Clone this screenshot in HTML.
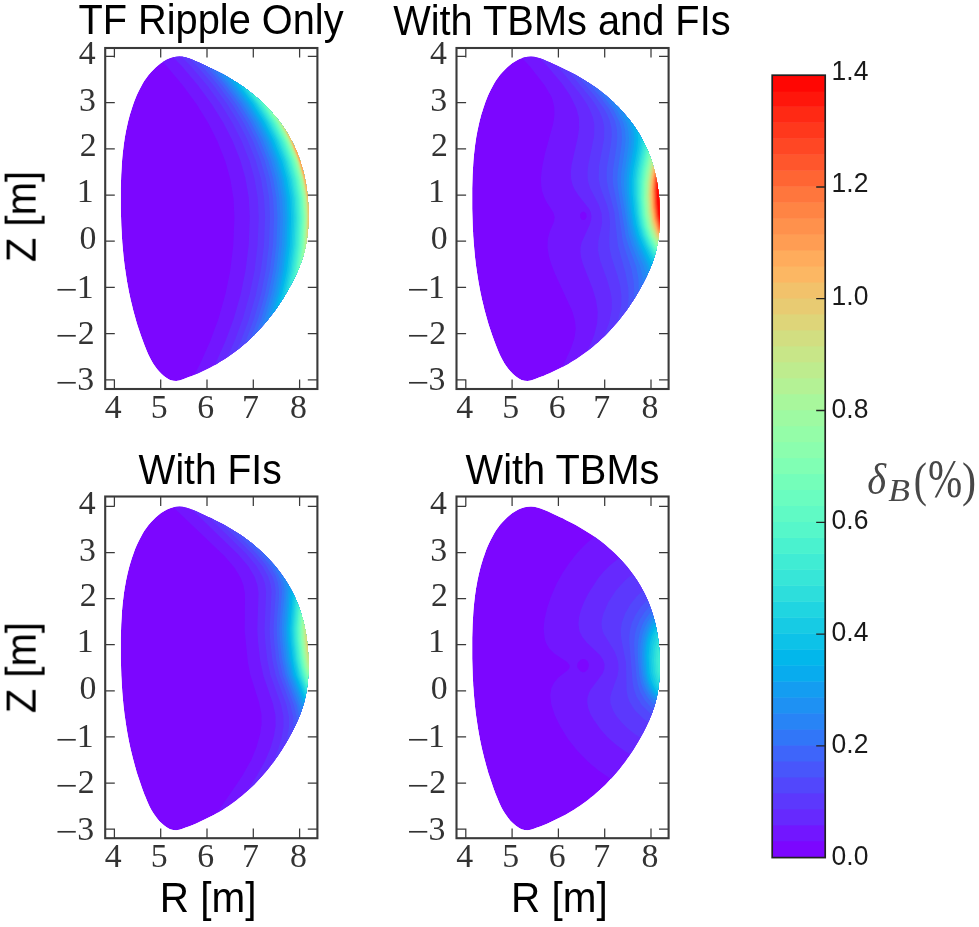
<!DOCTYPE html>
<html lang="en"><head><meta charset="utf-8"><title>Ripple maps</title>
<style>html,body{margin:0;padding:0;background:#fff}svg{display:block}</style></head>
<body>
<svg width="979" height="927" viewBox="0 0 979 927">
<rect width="979" height="927" fill="#fff"/>
<filter id="soft" x="0" y="0" width="100%" height="100%" filterUnits="userSpaceOnUse" color-interpolation-filters="sRGB"><feGaussianBlur stdDeviation="0.55"/></filter>
<g filter="url(#soft)">
<rect width="979" height="927" fill="#fff"/>
<clipPath id="c0"><path d="M308.5,218.2 L308.5,214.9 L308.4,211.5 L308.3,208.1 L308.2,204.6 L308,201.2 L307.7,197.8 L307.4,194.4 L307,191 L306.5,187.7 L306,184.3 L305.4,180.9 L304.7,177.6 L304,174.2 L303.2,170.9 L302.3,167.7 L301.3,164.4 L300.3,161.1 L299.2,157.9 L298,154.8 L296.8,151.6 L295.4,148.5 L294,145.4 L292.5,142.4 L290.9,139.4 L289.3,136.5 L287.6,133.5 L285.8,130.7 L283.9,127.8 L282,125.1 L280,122.3 L277.9,119.6 L275.8,117 L273.6,114.4 L271.4,111.8 L269.1,109.3 L266.7,106.8 L264.3,104.4 L261.9,102.1 L259.4,99.8 L256.8,97.5 L254.3,95.3 L251.6,93.2 L249,91.1 L246.3,89.1 L243.6,87.1 L240.8,85.2 L238,83.3 L235.1,81.5 L232.3,79.7 L229.4,78 L226.5,76.3 L223.5,74.6 L220.5,73 L217.5,71.4 L214.4,69.9 L211.4,68.4 L208.3,66.9 L205.2,65.4 L202,64 L198.9,62.6 L195.7,61.2 L192.5,59.8 L189.3,58.6 L186,57.5 L182.8,56.8 L179.6,56.5 L176.3,56.7 L173.1,57.2 L170,58.2 L166.9,59.6 L163.9,61.2 L161,63.1 L158.2,65.3 L155.6,67.6 L153.1,70 L150.7,72.5 L148.5,75.1 L146.5,77.8 L144.5,80.6 L142.7,83.5 L141.1,86.4 L139.5,89.4 L138,92.5 L136.6,95.6 L135.3,98.7 L134.1,101.8 L133,105 L131.9,108.2 L130.9,111.4 L129.9,114.6 L129,117.9 L128.2,121.1 L127.4,124.4 L126.7,127.7 L126,131 L125.4,134.3 L124.8,137.6 L124.3,141 L123.8,144.3 L123.4,147.7 L123,151 L122.6,154.4 L122.3,157.8 L122,161.2 L121.8,164.6 L121.6,168 L121.4,171.4 L121.2,174.8 L121.1,178.2 L121,181.6 L120.9,185 L120.8,188.4 L120.8,191.8 L120.8,195.2 L120.8,198.6 L120.8,202 L120.8,205.4 L120.8,208.8 L120.9,212.2 L121,215.6 L121.1,219 L121.2,222.4 L121.3,225.8 L121.5,229.2 L121.7,232.6 L121.8,236 L122.1,239.4 L122.3,242.7 L122.6,246.1 L122.9,249.5 L123.2,252.8 L123.5,256.2 L123.9,259.6 L124.3,262.9 L124.7,266.3 L125.2,269.6 L125.7,272.9 L126.2,276.3 L126.7,279.6 L127.3,282.9 L127.9,286.3 L128.5,289.6 L129.2,292.9 L129.9,296.2 L130.6,299.5 L131.4,302.8 L132.2,306.1 L133,309.4 L133.9,312.7 L134.8,315.9 L135.7,319.2 L136.6,322.4 L137.6,325.7 L138.7,328.9 L139.8,332.2 L140.9,335.4 L142,338.6 L143.2,341.8 L144.4,345 L145.7,348.2 L147,351.4 L148.3,354.5 L149.8,357.6 L151.4,360.5 L153.1,363.5 L155,366.3 L157,369 L159.2,371.5 L161.6,374 L164.2,376.2 L167,378.3 L170,379.9 L173.1,380.8 L176.2,381 L179.4,380.4 L182.5,379.4 L185.7,378.3 L188.8,377.1 L192,375.9 L195.1,374.6 L198.3,373.2 L201.4,371.8 L204.5,370.3 L207.6,368.8 L210.6,367.2 L213.7,365.6 L216.7,363.9 L219.6,362.1 L222.6,360.3 L225.5,358.5 L228.3,356.6 L231.1,354.6 L233.9,352.6 L236.6,350.6 L239.2,348.5 L241.9,346.3 L244.4,344.1 L247,341.9 L249.4,339.6 L251.9,337.3 L254.3,335 L256.6,332.6 L258.9,330.1 L261.2,327.6 L263.4,325.1 L265.6,322.5 L267.7,319.9 L269.8,317.3 L271.9,314.6 L273.9,311.9 L275.9,309.2 L277.8,306.4 L279.7,303.6 L281.6,300.7 L283.4,297.9 L285.1,295 L286.9,292 L288.6,289.1 L290.2,286.1 L291.9,283 L293.4,280 L294.9,276.9 L296.4,273.8 L297.8,270.7 L299.1,267.5 L300.4,264.4 L301.5,261.2 L302.6,258 L303.6,254.7 L304.5,251.5 L305.2,248.2 L305.9,245 L306.5,241.7 L307,238.4 L307.4,235 L307.8,231.7 L308.1,228.4 L308.3,225 L308.4,221.6Z"/></clipPath>
<g clip-path="url(#c0)">
<path d="M308.5,218.2 L308.5,214.9 L308.4,211.5 L308.3,208.1 L308.2,204.6 L308,201.2 L307.7,197.8 L307.4,194.4 L307,191 L306.5,187.7 L306,184.3 L305.4,180.9 L304.7,177.6 L304,174.2 L303.2,170.9 L302.3,167.7 L301.3,164.4 L300.3,161.1 L299.2,157.9 L298,154.8 L296.8,151.6 L295.4,148.5 L294,145.4 L292.5,142.4 L290.9,139.4 L289.3,136.5 L287.6,133.5 L285.8,130.7 L283.9,127.8 L282,125.1 L280,122.3 L277.9,119.6 L275.8,117 L273.6,114.4 L271.4,111.8 L269.1,109.3 L266.7,106.8 L264.3,104.4 L261.9,102.1 L259.4,99.8 L256.8,97.5 L254.3,95.3 L251.6,93.2 L249,91.1 L246.3,89.1 L243.6,87.1 L240.8,85.2 L238,83.3 L235.1,81.5 L232.3,79.7 L229.4,78 L226.5,76.3 L223.5,74.6 L220.5,73 L217.5,71.4 L214.4,69.9 L211.4,68.4 L208.3,66.9 L205.2,65.4 L202,64 L198.9,62.6 L195.7,61.2 L192.5,59.8 L189.3,58.6 L186,57.5 L182.8,56.8 L179.6,56.5 L176.3,56.7 L173.1,57.2 L170,58.2 L166.9,59.6 L163.9,61.2 L161,63.1 L158.2,65.3 L155.6,67.6 L153.1,70 L150.7,72.5 L148.5,75.1 L146.5,77.8 L144.5,80.6 L142.7,83.5 L141.1,86.4 L139.5,89.4 L138,92.5 L136.6,95.6 L135.3,98.7 L134.1,101.8 L133,105 L131.9,108.2 L130.9,111.4 L129.9,114.6 L129,117.9 L128.2,121.1 L127.4,124.4 L126.7,127.7 L126,131 L125.4,134.3 L124.8,137.6 L124.3,141 L123.8,144.3 L123.4,147.7 L123,151 L122.6,154.4 L122.3,157.8 L122,161.2 L121.8,164.6 L121.6,168 L121.4,171.4 L121.2,174.8 L121.1,178.2 L121,181.6 L120.9,185 L120.8,188.4 L120.8,191.8 L120.8,195.2 L120.8,198.6 L120.8,202 L120.8,205.4 L120.8,208.8 L120.9,212.2 L121,215.6 L121.1,219 L121.2,222.4 L121.3,225.8 L121.5,229.2 L121.7,232.6 L121.8,236 L122.1,239.4 L122.3,242.7 L122.6,246.1 L122.9,249.5 L123.2,252.8 L123.5,256.2 L123.9,259.6 L124.3,262.9 L124.7,266.3 L125.2,269.6 L125.7,272.9 L126.2,276.3 L126.7,279.6 L127.3,282.9 L127.9,286.3 L128.5,289.6 L129.2,292.9 L129.9,296.2 L130.6,299.5 L131.4,302.8 L132.2,306.1 L133,309.4 L133.9,312.7 L134.8,315.9 L135.7,319.2 L136.6,322.4 L137.6,325.7 L138.7,328.9 L139.8,332.2 L140.9,335.4 L142,338.6 L143.2,341.8 L144.4,345 L145.7,348.2 L147,351.4 L148.3,354.5 L149.8,357.6 L151.4,360.5 L153.1,363.5 L155,366.3 L157,369 L159.2,371.5 L161.6,374 L164.2,376.2 L167,378.3 L170,379.9 L173.1,380.8 L176.2,381 L179.4,380.4 L182.5,379.4 L185.7,378.3 L188.8,377.1 L192,375.9 L195.1,374.6 L198.3,373.2 L201.4,371.8 L204.5,370.3 L207.6,368.8 L210.6,367.2 L213.7,365.6 L216.7,363.9 L219.6,362.1 L222.6,360.3 L225.5,358.5 L228.3,356.6 L231.1,354.6 L233.9,352.6 L236.6,350.6 L239.2,348.5 L241.9,346.3 L244.4,344.1 L247,341.9 L249.4,339.6 L251.9,337.3 L254.3,335 L256.6,332.6 L258.9,330.1 L261.2,327.6 L263.4,325.1 L265.6,322.5 L267.7,319.9 L269.8,317.3 L271.9,314.6 L273.9,311.9 L275.9,309.2 L277.8,306.4 L279.7,303.6 L281.6,300.7 L283.4,297.9 L285.1,295 L286.9,292 L288.6,289.1 L290.2,286.1 L291.9,283 L293.4,280 L294.9,276.9 L296.4,273.8 L297.8,270.7 L299.1,267.5 L300.4,264.4 L301.5,261.2 L302.6,258 L303.6,254.7 L304.5,251.5 L305.2,248.2 L305.9,245 L306.5,241.7 L307,238.4 L307.4,235 L307.8,231.7 L308.1,228.4 L308.3,225 L308.4,221.6Z" fill="#7c06ff"/>
<path d="M186.6,389 318.1,389 318.1,47.2 148.3,47.2 166.5,66.1 182.7,85.3 196.6,104.3 208.2,123 217.4,141.2 225.4,161.5 230.2,178.8 233.5,198.5 234.4,218.1 233.2,245.8 230.2,270.8 225.5,293.7 218.6,318.2 210.5,340.4 200.1,363.8 186.6,389Z" fill="#7216ff"/>
<path d="M201.9,389 318.1,389 318.1,47.2 163.6,47.2 181.5,65.8 197.7,84.9 211.6,103.9 223.2,122.5 232.5,140.7 240.3,160.3 245.3,177.7 248.7,197.3 249.8,216.9 248.7,244.7 245.6,270.1 240.6,294.8 233.6,319.1 225.5,341.1 215.1,364.4 201.9,389Z" fill="#6629fe"/>
<path d="M210.9,389 318.1,389 318.1,47.2 172.6,47.2 190.8,66.2 207,85.3 220.9,104.3 232.5,123 241.7,141.2 249.7,161.5 254.5,178.8 257.8,198.5 258.7,218.1 257.5,245.8 254.5,270.7 249.8,293.6 242.9,318.2 234.8,340.4 224.4,363.8 210.9,389Z" fill="#5c38fd"/>
<path d="M217.3,389 318.1,389 318.1,47.2 178.9,47.2 197.7,66.8 212.8,84.6 226.7,103.4 238.3,122 247.5,140 255.6,160.2 260.9,178.8 264,197.3 265.1,216.9 263.9,245.8 260.7,271.2 255.7,295.5 248.7,319.9 240.6,341.8 230.2,365 217.3,389Z" fill="#5247fc"/>
<path d="M222.2,389 318.1,389 318.1,47.2 183.9,47.2 201.6,65.6 217.4,84.2 232.5,104.7 244,123.4 253.3,141.8 260.2,159.4 265.8,178.8 269,197.3 270,216.9 268.9,244.7 266,269 261.2,293.2 254.5,317.3 245.2,342.6 234.8,365.6 222.2,389Z" fill="#4856fb"/>
<path d="M226.2,389 318.1,389 318.1,47.2 187.9,47.2 205.8,65.8 222,85 235.9,103.9 247.5,122.5 256.8,140.7 264.6,160.3 269.6,177.7 273,197.3 274.1,216.9 273,244.7 269.9,270.1 264.9,294.8 257.9,319 249.8,341.1 239.4,364.4 226.2,389Z" fill="#3e65fa"/>
<path d="M229.7,389 318.1,389 318.1,47.2 191.3,47.2 209.3,65.9 225.5,85 239.4,104 251,122.6 260.2,140.8 268.3,161.3 273.2,178.8 276.4,197.8 277.5,216.9 276.4,244.7 273.3,270.1 268.3,294.5 261.4,318.8 253.3,340.9 242.9,364.3 229.7,389Z" fill="#3176f8"/>
<path d="M232.6,389 318.1,389 318.1,47.2 194.3,47.2 212,65.6 227.8,84.2 241.7,103 253.3,121.5 262.6,139.6 270.7,159.4 276.2,178.8 279.3,197.3 280.4,216.9 279.3,244.7 276.4,268.8 271.6,293.2 264.9,317.2 255.6,342.5 245.2,365.5 232.6,389Z" fill="#2884f6"/>
<path d="M235.2,389 318.1,389 318.1,47.2 196.9,47.2 215.1,66.2 231.3,85.3 245.2,104.3 256.8,123 266,141.3 274,161.5 278.8,178.8 282.1,198.5 283,218.1 281.8,245.8 278.8,270.6 274.1,293.5 267.2,318.1 259.1,340.4 248.7,363.8 235.2,389Z" fill="#1e91f3"/>
<path d="M237.5,389 318.1,389 318.1,47.2 199.2,47.2 217.4,66.2 233.6,85.3 247.5,104.3 259.1,123 268.3,141.2 276.3,161.5 281.1,178.8 284.4,198.5 285.4,218.1 284.2,245.8 281.1,270.7 276.4,293.6 269.5,318.1 261.4,340.4 251,363.8 237.5,389Z" fill="#149df1"/>
<path d="M239.6,389 318.1,389 318.1,47.2 201.3,47.2 219.1,65.6 234.8,84.1 248.7,102.9 261.4,123.4 270.7,141.7 277.6,159.2 283.2,178.8 286.4,197.3 287.5,216.9 286.4,244.7 283.4,269.4 278.7,293.2 271.8,317.5 262.6,342.7 252.1,365.7 239.6,389Z" fill="#08acee"/>
<path d="M241.6,389 318.1,389 318.1,47.2 203.2,47.2 221,65.6 237.1,84.6 251,103.5 262.6,122 271.8,140 279.9,160.3 285.1,178.8 288.3,197.3 289.4,218.1 288.1,247 284.8,272.4 280,295.5 273,319.8 264.9,341.8 254.5,364.9 241.6,389Z" fill="#02b7eb"/>
<path d="M243.3,389 318.1,389 318.1,47.2 205,47.2 223.2,66.2 239.4,85.3 253.3,104.3 264.9,123 274.1,141.2 282.1,161.5 286.9,178.8 290.2,198.5 291.1,218.1 290,244.7 287,270.1 282.2,293.6 275.3,318.1 267.2,340.4 256.8,363.8 243.3,389Z" fill="#0dc2e8"/>
<path d="M244.9,389 318.1,389 318.1,47.2 206.6,47.2 224.4,65.6 240.6,84.7 254.5,103.6 266,122.2 275.3,140.2 283.3,160.3 288.5,178.8 291.7,197.3 292.8,218.1 291.5,246.7 288.2,272.4 283.4,295.5 276.4,319.6 268.3,341.5 257.9,364.8 244.9,389Z" fill="#17cbe4"/>
<path d="M246.5,389 318.1,389 318.1,47.2 208.1,47.2 225.9,65.6 241.7,84.3 255.6,103.1 267.2,121.6 276.5,139.6 284.6,159.6 290,178.8 293.2,197.3 294.3,216.9 293.1,245.8 290.3,268.9 285.2,294.3 278.8,317.1 269.5,342.4 259.1,365.5 246.5,389Z" fill="#20d5e1"/>
<path d="M247.8,389 318.1,389 318.1,47.2 209.5,47.2 227.8,66.3 244,85.4 257.9,104.5 269.5,123.2 278.8,141.5 286.6,161.5 291.5,179.1 294.7,198.5 295.7,218.1 294.6,244.7 291.5,270.1 286.9,293.2 279.9,317.8 271.8,340.1 261.4,363.6 247.8,389Z" fill="#2ddedc"/>
<path d="M249.1,389 318.1,389 318.1,47.2 210.8,47.2 229,66.1 245.2,85.3 259.1,104.2 270.7,122.9 279.9,141.2 287.9,161.5 292.7,178.8 296,198.5 297,218.1 295.9,244.7 292.7,270.9 288,293.7 281.1,318.3 273,340.5 262.6,363.9 249.1,389Z" fill="#37e6d8"/>
<path d="M250.3,389 318.1,389 318.1,47.2 212,47.2 230.2,66.1 246.4,85.2 260.2,104.2 271.8,122.9 281.1,141.1 289.1,161.5 293.9,178.8 297.2,198.5 298.2,218.1 297.1,244.7 293.8,271.2 289.2,293.9 282.2,318.4 274.1,340.6 263.7,364 250.3,389Z" fill="#40ecd4"/>
<path d="M251.5,389 318.1,389 318.1,47.2 213.1,47.2 231.3,66.1 247.5,85.2 261.4,104.2 273,122.9 282.2,141.1 290.3,161.8 295.1,178.8 298.3,198.5 299.3,218.1 298.2,244.7 295,271 290.3,293.8 283.4,318.3 275.3,340.5 264.9,363.9 251.5,389Z" fill="#4af2cf"/>
<path d="M252.5,389 318.1,389 318.1,47.2 214.2,47.2 232.5,66.2 248.7,85.4 262.6,104.4 274.1,123.1 284.6,144 291.5,162.2 296.1,179 299.4,198.5 300.3,218.1 299.2,244.7 296.1,270.2 291.5,293.3 284.6,317.9 276.4,340.2 266,363.6 252.5,389Z" fill="#56f7ca"/>
<path d="M253.5,389 318.1,389 318.1,47.2 215.1,47.2 233.6,66.5 248.7,84.2 263.7,104.7 275.3,123.5 284.6,141.8 291.5,159.4 297.3,179.9 300.3,198.5 301.3,220.4 299.9,248.1 296.5,273.5 291.5,297.1 284.6,320.8 276.4,342.6 266,365.6 253.5,389Z" fill="#60fac5"/>
<path d="M254.3,389 318.1,389 318.1,47.2 216,47.2 233.6,65.5 248.7,83.1 262.6,101.7 275.3,121.9 284.6,139.9 292.7,160.2 298.2,180 301.1,197.3 302.1,219.3 300.8,248.1 297.3,274.2 292.7,296 285.7,320 277.6,341.9 267.2,365 254.3,389Z" fill="#6afdc0"/>
<path d="M255.1,389 318.1,389 318.1,47.2 216.8,47.2 234.8,65.9 252.1,86.4 264.9,103.9 276.4,122.6 285.7,140.7 293.8,161.2 298.5,177.7 301.9,197.5 303,215.8 301.9,244.1 298.4,272.2 293.8,294.6 286.9,318.9 278.8,341 268.3,364.3 255.1,389Z" fill="#74feba"/>
<path d="M255.9,389 318.1,389 318.1,47.2 217.5,47.2 235.9,66.4 251,84.1 264.9,102.9 277.6,123.3 288,144.2 295,162.5 299.6,179.4 302.7,198.5 303.7,218.1 302.6,244.7 299.6,269.6 295,292.8 288,317.6 278.8,342.8 268.3,365.8 255.9,389Z" fill="#80ffb4"/>
<path d="M256.5,389 318.1,389 318.1,47.2 218.2,47.2 235.9,65.6 252.1,84.7 266,103.6 277.6,122.1 286.9,140.2 295,160.5 299.6,176.5 303.1,196.2 304.4,216.9 303.1,247 299.6,273.6 295,295.6 288,319.6 279.9,341.6 269.5,364.8 256.5,389Z" fill="#8bfeae"/>
<path d="M257.1,389 318.1,389 318.1,47.2 218.8,47.2 237.1,66.2 253.3,85.4 266,102.7 278.8,123.1 289.2,144 296.1,162.2 300.8,178.9 304,198.5 305,218.1 303.9,244.7 300.8,270.3 296.1,293.3 289.2,318 281.1,340.2 270.7,363.7 257.1,389Z" fill="#94fda8"/>
<path d="M257.7,389 318.1,389 318.1,47.2 219.3,47.2 237.1,65.6 252.1,83.2 267.2,103.6 278.8,122.1 288,140.2 296.1,160.5 300.8,176.5 304.3,196.2 305.5,216.9 304.2,247.1 300.8,273.6 296.1,295.6 289.2,319.7 281.1,341.6 270.7,364.8 257.7,389Z" fill="#9efaa2"/>
<path d="M258.2,389 318.1,389 318.1,47.2 219.8,47.2 238.3,66.4 253.3,84.1 267.2,102.8 279.9,123.3 290.3,144.2 297.3,162.5 301.9,179.4 305.1,198.5 306,218.1 304.9,244.7 301.9,269.7 297.3,292.9 290.3,317.6 281.1,342.8 270.7,365.8 258.2,389Z" fill="#a8f79c"/>
<path d="M258.6,389 318.1,389 318.1,47.2 220.3,47.2 238.3,65.8 255.6,86.4 268.3,103.9 279.9,122.5 289.2,140.6 297.3,161.1 301.9,177.4 305.4,197.1 306.5,215.8 305.4,244.7 301.9,272.5 297.3,294.8 290.3,319 281.1,343.9 270.7,366.7 258.6,389Z" fill="#b4f295"/>
<path d="M259.1,389 318.1,389 318.1,47.2 220.7,47.2 239.4,66.7 253.3,83 267.2,101.6 279.9,121.8 289.2,139.7 297.3,159.9 303.1,180.6 305.8,197.3 306.7,207.7 306.9,219.3 305.4,249.4 301.9,274.9 297.3,296.5 290.3,320.3 282.2,342.1 271.8,365.2 259.1,389Z" fill="#beec8e"/>
<path d="M259.4,389 318.1,389 318.1,47.2 221.1,47.2 239.4,66.3 255.6,85.4 268.3,102.7 281.1,123.1 291.5,144 298.4,162.2 303.1,178.9 306.5,199.6 307.2,211.2 307.2,223.9 305.4,252.8 301.9,277 297.3,298 290.3,321.4 282.2,343.1 271.8,366 259.4,389Z" fill="#c8e688"/>
<path d="M259.8,389 318.1,389 318.1,47.2 221.4,47.2 238.3,64.6 256.8,86.4 269.5,103.9 281.1,122.5 290.3,140.6 298.4,161.1 303.1,177.4 306.5,197.2 307.6,215.8 306.5,244.6 303.1,272.4 298.4,294.8 291.5,319 282.2,343.9 271.8,366.7 259.8,389Z" fill="#d2de81"/>
<path d="M260.1,389 318.1,389 318.1,47.2 221.8,47.2 240.6,66.8 254.5,83.1 268.3,101.7 279.9,119.9 289.2,137.4 297.3,156.8 303.1,176.1 306.6,195 307.9,214.6 307,242.4 304.2,267.2 299.6,291.3 292.7,316.4 283.4,341.9 273,365 260.1,389Z" fill="#ded579"/>
<path d="M260.4,389 318.1,389 318.1,47.2 222.1,47.2 240.6,66.5 255.6,84.2 270.7,104.7 282.2,123.5 291.5,141.8 299.6,162.8 304.2,179.8 307.3,198.5 308.1,208.9 308.2,221.6 306.5,251.4 303.1,275.9 298.4,297.2 291.5,320.9 283.4,342.6 273,365.6 260.4,389Z" fill="#e8cb72"/>
<path d="M260.7,389 318.1,389 318.1,47.2 222.3,47.2 240.6,66.2 256.8,85.3 269.5,102.6 282.2,123 291.5,141.2 299.6,161.9 304.2,178.5 307.7,199.6 308.5,218.1 307.5,243.5 304.2,270.8 299.6,293.7 292.7,318.2 284.6,340.4 274.1,363.8 260.7,389Z" fill="#f2c26b"/>
<path d="M260.9,389 318.1,389 318.1,47.2 222.6,47.2 239.4,64.6 257.9,86.4 270.7,103.9 282.2,122.5 291.5,140.6 299.6,161.2 304.2,177.4 307.7,197.3 308.8,215.8 307.7,244.5 304.2,272.3 299.6,294.7 292.7,319 283.4,343.9 273,366.7 260.9,389Z" fill="#fcb763"/>
<path d="M261.2,389 318.1,389 318.1,47.2 222.8,47.2 240.6,65.6 255.6,83.2 270.7,103.6 282.2,122.1 291.5,140.1 299.6,160.4 304.2,176.4 307.7,195.3 309,215.8 307.7,247.2 304.2,273.7 299.6,295.7 292.7,319.7 284.6,341.7 274.1,364.8 261.2,389Z" fill="#ffac5c"/>
<path d="M261.4,389 318.1,389 318.1,47.2 223,47.2 242.9,68 255.6,83 269.5,101.5 281.1,119.7 290.4,137.2 298.4,156.5 304.2,175.6 307.7,193.8 309.2,213.5 308.4,240 305.4,268 300.8,291.8 293.8,316.8 285.7,339.3 274.1,365.3 261.4,389Z" fill="#ff9d53"/>
</g>
<rect x="105.2" y="48.0" width="212.2" height="341.0" fill="none" stroke="#3a3a3a" stroke-width="2.1"/>
<path d="M114.4,389.0v-9.6M114.4,48.0v9.6M160.7,389.0v-9.6M160.7,48.0v9.6M207.0,389.0v-9.6M207.0,48.0v9.6M253.3,389.0v-9.6M253.3,48.0v9.6M299.6,389.0v-9.6M299.6,48.0v9.6M105.2,379.8h9.6M317.4,379.8h-9.6M105.2,333.6h9.6M317.4,333.6h-9.6M105.2,287.4h9.6M317.4,287.4h-9.6M105.2,241.2h9.6M317.4,241.2h-9.6M105.2,195.0h9.6M317.4,195.0h-9.6M105.2,148.8h9.6M317.4,148.8h-9.6M105.2,102.6h9.6M317.4,102.6h-9.6M105.2,56.4h9.6M317.4,56.4h-9.6" stroke="#3a3a3a" stroke-width="1.25" fill="none"/>
<text transform="translate(104.85,418.00) scale(1.0000,1)" font-family="'Liberation Serif','Times New Roman',serif" font-size="33.80" fill="#333">4</text>
<text transform="translate(150.81,418.00) scale(1.0000,1)" font-family="'Liberation Serif','Times New Roman',serif" font-size="33.80" fill="#333">5</text>
<text transform="translate(197.28,418.00) scale(1.0000,1)" font-family="'Liberation Serif','Times New Roman',serif" font-size="33.80" fill="#333">6</text>
<text transform="translate(241.97,418.00) scale(1.0000,1)" font-family="'Liberation Serif','Times New Roman',serif" font-size="33.80" fill="#333">7</text>
<text transform="translate(290.05,418.00) scale(1.0000,1)" font-family="'Liberation Serif','Times New Roman',serif" font-size="33.80" fill="#333">8</text>
<text transform="translate(77.15,390.20) scale(1.0000,1)" font-family="'Liberation Serif','Times New Roman',serif" font-size="33.80" fill="#333">3</text>
<text transform="translate(55.33,393.52) scale(1.1645,1)" font-family="'Liberation Serif','Times New Roman',serif" font-size="33.80" fill="#333">−</text>
<text transform="translate(77.83,344.00) scale(1.0000,1)" font-family="'Liberation Serif','Times New Roman',serif" font-size="33.80" fill="#333">2</text>
<text transform="translate(55.33,347.32) scale(1.1645,1)" font-family="'Liberation Serif','Times New Roman',serif" font-size="33.80" fill="#333">−</text>
<text transform="translate(76.63,297.80) scale(1.0000,1)" font-family="'Liberation Serif','Times New Roman',serif" font-size="33.80" fill="#333">1</text>
<text transform="translate(55.33,301.12) scale(1.1645,1)" font-family="'Liberation Serif','Times New Roman',serif" font-size="33.80" fill="#333">−</text>
<text transform="translate(79.45,249.10) scale(1.0000,1)" font-family="'Liberation Serif','Times New Roman',serif" font-size="33.80" fill="#333">0</text>
<text transform="translate(76.63,201.90) scale(1.0000,1)" font-family="'Liberation Serif','Times New Roman',serif" font-size="33.80" fill="#333">1</text>
<text transform="translate(79.63,156.30) scale(1.0000,1)" font-family="'Liberation Serif','Times New Roman',serif" font-size="33.80" fill="#333">2</text>
<text transform="translate(78.95,110.80) scale(1.0000,1)" font-family="'Liberation Serif','Times New Roman',serif" font-size="33.80" fill="#333">3</text>
<text transform="translate(78.78,63.60) scale(1.0000,1)" font-family="'Liberation Serif','Times New Roman',serif" font-size="33.80" fill="#333">4</text>
<text transform="translate(78.50,33.70) scale(0.9466,1)" font-family="'Liberation Sans',Arial,Helvetica,sans-serif" font-size="42.00" fill="#000">TF Ripple Only</text>
<text transform="translate(35.6,262.10) rotate(-90) scale(0.9535,1)" font-family="'Liberation Sans',Arial,Helvetica,sans-serif" font-size="42.0" fill="#000">Z [m]</text>
<clipPath id="c1"><path d="M659.9,218.2 L659.9,214.9 L659.8,211.5 L659.7,208.1 L659.6,204.6 L659.4,201.2 L659.1,197.8 L658.8,194.4 L658.4,191 L657.9,187.7 L657.4,184.3 L656.8,180.9 L656.1,177.6 L655.4,174.2 L654.6,170.9 L653.7,167.7 L652.7,164.4 L651.7,161.1 L650.6,157.9 L649.4,154.8 L648.2,151.6 L646.8,148.5 L645.4,145.4 L643.9,142.4 L642.3,139.4 L640.7,136.5 L639,133.5 L637.2,130.7 L635.3,127.8 L633.4,125.1 L631.4,122.3 L629.3,119.6 L627.2,117 L625,114.4 L622.8,111.8 L620.5,109.3 L618.1,106.8 L615.7,104.4 L613.3,102.1 L610.8,99.8 L608.2,97.5 L605.7,95.3 L603,93.2 L600.4,91.1 L597.7,89.1 L595,87.1 L592.2,85.2 L589.4,83.3 L586.5,81.5 L583.7,79.7 L580.8,78 L577.9,76.3 L574.9,74.6 L571.9,73 L568.9,71.4 L565.8,69.9 L562.8,68.4 L559.7,66.9 L556.6,65.4 L553.4,64 L550.3,62.6 L547.1,61.2 L543.9,59.8 L540.7,58.6 L537.4,57.5 L534.2,56.8 L531,56.5 L527.7,56.7 L524.5,57.2 L521.4,58.2 L518.3,59.6 L515.3,61.2 L512.4,63.1 L509.6,65.3 L507,67.6 L504.5,70 L502.1,72.5 L499.9,75.1 L497.9,77.8 L495.9,80.6 L494.1,83.5 L492.5,86.4 L490.9,89.4 L489.4,92.5 L488,95.6 L486.7,98.7 L485.5,101.8 L484.4,105 L483.3,108.2 L482.3,111.4 L481.3,114.6 L480.4,117.9 L479.6,121.1 L478.8,124.4 L478.1,127.7 L477.4,131 L476.8,134.3 L476.2,137.6 L475.7,141 L475.2,144.3 L474.8,147.7 L474.4,151 L474,154.4 L473.7,157.8 L473.4,161.2 L473.2,164.6 L473,168 L472.8,171.4 L472.6,174.8 L472.5,178.2 L472.4,181.6 L472.3,185 L472.2,188.4 L472.2,191.8 L472.2,195.2 L472.2,198.6 L472.2,202 L472.2,205.4 L472.2,208.8 L472.3,212.2 L472.4,215.6 L472.5,219 L472.6,222.4 L472.7,225.8 L472.9,229.2 L473.1,232.6 L473.2,236 L473.5,239.4 L473.7,242.7 L474,246.1 L474.3,249.5 L474.6,252.8 L474.9,256.2 L475.3,259.6 L475.7,262.9 L476.1,266.3 L476.6,269.6 L477.1,272.9 L477.6,276.3 L478.1,279.6 L478.7,282.9 L479.3,286.3 L479.9,289.6 L480.6,292.9 L481.3,296.2 L482,299.5 L482.8,302.8 L483.6,306.1 L484.4,309.4 L485.3,312.7 L486.2,315.9 L487.1,319.2 L488,322.4 L489,325.7 L490.1,328.9 L491.2,332.2 L492.3,335.4 L493.4,338.6 L494.6,341.8 L495.8,345 L497.1,348.2 L498.4,351.4 L499.7,354.5 L501.2,357.6 L502.8,360.5 L504.5,363.5 L506.4,366.3 L508.4,369 L510.6,371.5 L513,374 L515.6,376.2 L518.4,378.3 L521.4,379.9 L524.5,380.8 L527.6,381 L530.8,380.4 L533.9,379.4 L537.1,378.3 L540.2,377.1 L543.4,375.9 L546.5,374.6 L549.7,373.2 L552.8,371.8 L555.9,370.3 L559,368.8 L562,367.2 L565.1,365.6 L568.1,363.9 L571,362.1 L574,360.3 L576.9,358.5 L579.7,356.6 L582.5,354.6 L585.3,352.6 L588,350.6 L590.6,348.5 L593.3,346.3 L595.8,344.1 L598.4,341.9 L600.8,339.6 L603.3,337.3 L605.7,335 L608,332.6 L610.3,330.1 L612.6,327.6 L614.8,325.1 L617,322.5 L619.1,319.9 L621.2,317.3 L623.3,314.6 L625.3,311.9 L627.3,309.2 L629.2,306.4 L631.1,303.6 L633,300.7 L634.8,297.9 L636.5,295 L638.3,292 L640,289.1 L641.6,286.1 L643.3,283 L644.8,280 L646.3,276.9 L647.8,273.8 L649.2,270.7 L650.5,267.5 L651.8,264.4 L652.9,261.2 L654,258 L655,254.7 L655.9,251.5 L656.6,248.2 L657.3,245 L657.9,241.7 L658.4,238.4 L658.8,235 L659.2,231.7 L659.5,228.4 L659.7,225 L659.8,221.6Z"/></clipPath>
<g clip-path="url(#c1)">
<path d="M659.9,218.2 L659.9,214.9 L659.8,211.5 L659.7,208.1 L659.6,204.6 L659.4,201.2 L659.1,197.8 L658.8,194.4 L658.4,191 L657.9,187.7 L657.4,184.3 L656.8,180.9 L656.1,177.6 L655.4,174.2 L654.6,170.9 L653.7,167.7 L652.7,164.4 L651.7,161.1 L650.6,157.9 L649.4,154.8 L648.2,151.6 L646.8,148.5 L645.4,145.4 L643.9,142.4 L642.3,139.4 L640.7,136.5 L639,133.5 L637.2,130.7 L635.3,127.8 L633.4,125.1 L631.4,122.3 L629.3,119.6 L627.2,117 L625,114.4 L622.8,111.8 L620.5,109.3 L618.1,106.8 L615.7,104.4 L613.3,102.1 L610.8,99.8 L608.2,97.5 L605.7,95.3 L603,93.2 L600.4,91.1 L597.7,89.1 L595,87.1 L592.2,85.2 L589.4,83.3 L586.5,81.5 L583.7,79.7 L580.8,78 L577.9,76.3 L574.9,74.6 L571.9,73 L568.9,71.4 L565.8,69.9 L562.8,68.4 L559.7,66.9 L556.6,65.4 L553.4,64 L550.3,62.6 L547.1,61.2 L543.9,59.8 L540.7,58.6 L537.4,57.5 L534.2,56.8 L531,56.5 L527.7,56.7 L524.5,57.2 L521.4,58.2 L518.3,59.6 L515.3,61.2 L512.4,63.1 L509.6,65.3 L507,67.6 L504.5,70 L502.1,72.5 L499.9,75.1 L497.9,77.8 L495.9,80.6 L494.1,83.5 L492.5,86.4 L490.9,89.4 L489.4,92.5 L488,95.6 L486.7,98.7 L485.5,101.8 L484.4,105 L483.3,108.2 L482.3,111.4 L481.3,114.6 L480.4,117.9 L479.6,121.1 L478.8,124.4 L478.1,127.7 L477.4,131 L476.8,134.3 L476.2,137.6 L475.7,141 L475.2,144.3 L474.8,147.7 L474.4,151 L474,154.4 L473.7,157.8 L473.4,161.2 L473.2,164.6 L473,168 L472.8,171.4 L472.6,174.8 L472.5,178.2 L472.4,181.6 L472.3,185 L472.2,188.4 L472.2,191.8 L472.2,195.2 L472.2,198.6 L472.2,202 L472.2,205.4 L472.2,208.8 L472.3,212.2 L472.4,215.6 L472.5,219 L472.6,222.4 L472.7,225.8 L472.9,229.2 L473.1,232.6 L473.2,236 L473.5,239.4 L473.7,242.7 L474,246.1 L474.3,249.5 L474.6,252.8 L474.9,256.2 L475.3,259.6 L475.7,262.9 L476.1,266.3 L476.6,269.6 L477.1,272.9 L477.6,276.3 L478.1,279.6 L478.7,282.9 L479.3,286.3 L479.9,289.6 L480.6,292.9 L481.3,296.2 L482,299.5 L482.8,302.8 L483.6,306.1 L484.4,309.4 L485.3,312.7 L486.2,315.9 L487.1,319.2 L488,322.4 L489,325.7 L490.1,328.9 L491.2,332.2 L492.3,335.4 L493.4,338.6 L494.6,341.8 L495.8,345 L497.1,348.2 L498.4,351.4 L499.7,354.5 L501.2,357.6 L502.8,360.5 L504.5,363.5 L506.4,366.3 L508.4,369 L510.6,371.5 L513,374 L515.6,376.2 L518.4,378.3 L521.4,379.9 L524.5,380.8 L527.6,381 L530.8,380.4 L533.9,379.4 L537.1,378.3 L540.2,377.1 L543.4,375.9 L546.5,374.6 L549.7,373.2 L552.8,371.8 L555.9,370.3 L559,368.8 L562,367.2 L565.1,365.6 L568.1,363.9 L571,362.1 L574,360.3 L576.9,358.5 L579.7,356.6 L582.5,354.6 L585.3,352.6 L588,350.6 L590.6,348.5 L593.3,346.3 L595.8,344.1 L598.4,341.9 L600.8,339.6 L603.3,337.3 L605.7,335 L608,332.6 L610.3,330.1 L612.6,327.6 L614.8,325.1 L617,322.5 L619.1,319.9 L621.2,317.3 L623.3,314.6 L625.3,311.9 L627.3,309.2 L629.2,306.4 L631.1,303.6 L633,300.7 L634.8,297.9 L636.5,295 L638.3,292 L640,289.1 L641.6,286.1 L643.3,283 L644.8,280 L646.3,276.9 L647.8,273.8 L649.2,270.7 L650.5,267.5 L651.8,264.4 L652.9,261.2 L654,258 L655,254.7 L655.9,251.5 L656.6,248.2 L657.3,245 L657.9,241.7 L658.4,238.4 L658.8,235 L659.2,231.7 L659.5,228.4 L659.7,225 L659.8,221.6Z" fill="#7c06ff"/>
<path d="M550.8,389 669.5,389 669.5,47.2 512.3,47.2 530.1,66.8 544.6,85.3 551.4,96.8 553,101.4 554.2,107.2 554.4,115.3 553.2,123.4 545,153.4 542.1,167.3 540.9,177.7 541.2,185.8 542.2,191.5 544.2,197.3 546.8,202.5 553.2,212.3 554.7,216.9 554.1,221.6 549.6,232 547.8,238.9 547.5,247 548.9,256.2 551.3,264.3 554.9,273.5 572.3,311.2 575,320.9 575.7,329 574.4,338.2 570.9,348.6 561.9,368.1 550.8,389ZM581.5,219.5 580.1,216.9 580.1,214.6 581.5,212.3 583.9,211.6 586.2,213.5 586.7,216.9 585,219.7 582.7,220.1 581.5,219.5Z" fill="#7216ff"/>
<path d="M566.4,389 669.5,389 669.5,47.2 529.4,47.2 546.8,65.6 561.9,83.4 570.3,95.7 576.4,108.4 578.8,117.6 579.1,128 577.8,137.2 571.5,165 570.8,171.9 571.1,178.8 572.4,184.6 574.5,189.2 578.2,195 589.2,208.9 590.7,212.3 591.4,215.8 591.2,219.3 590,223.9 581.6,242.4 580.6,247 580.4,251.6 581.1,257.4 583,264.3 592.5,288.6 596,300.1 597.7,311.7 597.1,323.2 594.3,334.8 589.7,346.3 566.4,389Z" fill="#6629fe"/>
<path d="M575.1,389 669.5,389 669.5,47.2 539,47.2 563,72.7 580.5,94.5 586.2,103 590.3,110.7 592.9,117.6 594.3,124.5 594.1,136.1 588.2,165 587.5,171.9 587.6,177.7 588.3,182.3 590.1,188.1 598.9,205.3 601.6,213.5 602.1,222.7 598.3,241.2 598,250.4 600.2,260.8 607.3,280.5 610.3,290.9 611.8,300.1 611.7,309.3 609.3,322.1 603.2,338.2 595.4,353.3 575.1,389Z" fill="#5c38fd"/>
<path d="M581.1,389 669.5,389 669.5,47.2 545.6,47.2 570.7,73.7 591.5,99.1 596.3,106.1 600.1,113 602.8,119.9 604.2,126.9 604.1,138.4 599,166.1 598.6,178.8 600.5,188.1 607,205 609.2,213.5 610,222.7 609.2,240 609.6,248.1 611.6,257.4 617.4,275.3 620,285.1 621.4,295.5 621.3,304.7 618.6,317.9 612.8,332.4 603.5,350.2 581.1,389Z" fill="#5247fc"/>
<path d="M585.6,389 669.5,389 669.5,47.2 550.6,47.2 572.8,70.3 594.6,95.7 603.9,108.4 607.1,114.2 609.5,119.9 611.4,128 611.7,136.1 610.9,144.2 607,167.3 606.6,174.2 606.9,181.1 608.4,189.2 614.4,212.3 617.9,245.8 625.5,272.8 628.2,287.4 628.6,296.6 627.9,304.9 625.8,314 622.4,323.2 611.6,344.4 585.6,389Z" fill="#4856fb"/>
<path d="M589.3,389 669.5,389 669.5,47.2 554.6,47.2 575.8,69.1 600.1,96.8 609.4,109.5 615,121.1 616.9,129.2 617.3,137.2 616.5,146.5 613,169.6 612.7,177.7 613.1,184.6 618.6,212.1 622.5,240 624.6,248.1 631.3,268.4 633.7,281.6 634.2,292 633.5,301.3 631.3,311.3 627.9,320.9 618.6,339.1 589.3,389Z" fill="#3e65fa"/>
<path d="M592.3,389 669.5,389 669.5,47.2 558,47.2 579.2,69.1 604.8,98 614,110.7 619.6,122.2 621.5,130.3 621.9,138.4 621.3,146.5 617.6,171.9 617.3,180 617.9,188.1 625.8,236.6 628.5,245.8 636.1,266.6 638.4,278.2 638.8,289.7 638,298.9 636,308.7 632.5,318.6 624.4,334.8 592.3,389Z" fill="#3176f8"/>
<path d="M595,389 669.5,389 669.5,47.2 560.9,47.2 581.5,68.5 607.9,98 617.3,110.7 623.1,122.2 625.1,130.3 625.7,139.6 625,147.6 621.2,173.1 621,182.3 621.7,191.5 628.5,234.3 632,245.8 639.9,265.5 642.5,277 642.7,286.2 641.7,297.8 639.4,308 636,317.8 627.9,333.8 595,389Z" fill="#2884f6"/>
<path d="M597.3,389 669.5,389 669.5,47.2 563.4,47.2 583.9,68.2 611.6,99.1 620.9,111.8 626.5,123.4 628.4,131.5 629,139.6 628.3,147.6 624.1,175.4 624,185.8 624.9,196.2 628.5,221.6 630.8,233.1 634.5,244.7 643.3,265.5 645,271.2 645.9,277 646,286.2 644.7,297.8 642.2,308.2 638.3,318.6 630.2,334.1 597.3,389Z" fill="#1e91f3"/>
<path d="M599.3,389 669.5,389 669.5,47.2 565.6,47.2 586.2,68.3 614,99.1 623.4,111.8 629.1,123.4 631.2,131.5 631.7,139.6 631.1,147.6 627.3,169.6 626.5,178.8 626.6,189.2 628.3,205.4 630.9,222.7 633.4,234.3 637.5,245.8 646.2,265.5 648,271.2 648.9,277 648.9,286.2 647.3,297.8 644.6,308.2 640.6,318.6 632.5,333.9 599.3,389Z" fill="#149df1"/>
<path d="M601.1,389 669.5,389 669.5,47.2 567.6,47.2 588.5,68.6 616.2,99.1 625.6,111.8 631.4,123.4 633.6,131.5 634.2,139.6 633.6,146.5 629.8,168.4 628.7,178.8 628.7,190.4 630.7,208.9 633,223.9 635.5,234.3 639.2,244.7 648.7,265.5 650.5,271.2 651.4,277 651.4,286.2 649.6,297.8 646.8,308.2 642.9,318.1 634.8,333.3 601.1,389Z" fill="#08acee"/>
<path d="M602.8,389 669.5,389 669.5,47.2 569.4,47.2 590.8,69.1 618.1,99.1 627.6,111.8 633.5,123.4 635.7,131.5 636.3,139.6 635.4,148.8 631.6,169.6 630.6,180 630.7,192.7 632.8,212.3 634.9,225 637.7,235.4 641.2,244.7 651,265.5 653.6,275.9 653.7,285.1 652.1,295.5 649.5,305.9 645.2,317.1 637.1,332.4 602.8,389Z" fill="#02b7eb"/>
<path d="M604.3,389 669.5,389 669.5,47.2 571.1,47.2 592,68.5 619.8,99.1 630.1,113 635.8,124.5 637.6,131.5 638.2,139.6 637.3,148.8 633.2,170.7 632.3,180 632.4,192.7 634.2,211.2 636.3,223.9 638.9,234.3 642.4,243.5 653,265.5 655.6,276 655.6,285.1 654,295.5 651,306.7 647.3,316.3 639.4,331.3 604.3,389Z" fill="#0dc2e8"/>
<path d="M605.7,389 669.5,389 669.5,47.2 572.6,47.2 593,68 621.4,99.1 631,111.8 637.1,123.6 639.4,131.5 640,139.6 639.4,146.5 635.2,168.4 633.9,180 633.9,192.7 635.8,212.3 637.9,225 640.8,235.4 644.6,244.7 654.5,264.7 656.3,270.1 657.4,275.9 657.4,285.1 655.7,295.5 652.9,305.9 648.7,316.6 640.6,331.9 605.7,389Z" fill="#17cbe4"/>
<path d="M607,389 669.5,389 669.5,47.2 574,47.2 595.4,69 623.2,99.5 633.3,113 639,124.5 640.9,131.5 641.6,139.6 640.6,148.8 636.4,170.7 635.3,181.1 635.4,195 637.3,214.6 639.1,225 642.1,235.4 646,244.7 656,264.3 658,270.1 659.1,275.9 659.1,285.1 657.3,295.5 654.4,305.9 649.8,317.2 641.7,332.2 607,389Z" fill="#20d5e1"/>
<path d="M608.2,389 669.5,389 669.5,47.2 575.4,47.2 596.6,68.9 624.4,99.2 634.7,113 640.5,124.5 642.4,131.5 643,139.6 642,148.8 637.7,170.7 636.6,181.1 636.7,195 638.4,214.6 640.3,225 643.3,235.4 646.7,243.5 657.5,264.3 659.5,270.1 660.6,275.9 660.7,283.9 659,294.3 655.6,306.3 651.1,317.4 642.9,332.4 608.2,389Z" fill="#2ddedc"/>
<path d="M609.4,389 669.5,389 669.5,47.2 576.6,47.2 597.8,68.8 625.6,99.1 636,112.9 641.8,124.5 644,132.6 644.4,139.6 643.3,148.8 639,170.7 637.9,181.1 637.9,196.2 639.6,215.8 641.6,226.2 644.4,235.4 647.9,243.5 658.9,264.3 661,270.1 662.1,275.9 662.1,283.9 660.3,294.6 656.8,306.6 652.3,317.4 644.1,332.4 609.4,389Z" fill="#37e6d8"/>
<path d="M610.5,389 669.5,389 669.5,47.2 577.8,47.2 598.9,68.7 626.8,99.1 637.1,112.8 643.1,124.5 645.2,132.5 645.6,139.6 645,146.5 640.8,167.3 639.1,180 638.9,196.2 640.4,214.6 642.2,225 645.4,235.4 649.6,244.7 660.3,264.2 662.3,270.1 663.4,275.9 663.3,283.9 661.6,294.3 658.2,305.9 654,316.3 646.4,330.5 610.5,389Z" fill="#40ecd4"/>
<path d="M611.5,389 669.5,389 669.5,47.2 578.9,47.2 600.1,68.8 627.9,99.1 638.3,112.9 644.3,124.5 646.4,132.4 646.8,139.6 645.7,148.8 641.3,170.7 640.1,181.1 639.9,196.2 641.3,214.6 643.1,225 645.9,234.3 650.6,244.7 661.4,264 663.6,270.1 664.6,275.9 664.6,283.9 662.6,295 659.1,306.6 654.6,317.4 647.5,330.4 611.5,389Z" fill="#4af2cf"/>
<path d="M612.4,389 669.5,389 669.5,47.2 579.9,47.2 601.2,68.9 629,99.2 639.4,113 645.4,124.5 647.5,132.6 647.9,139.6 646.8,148.8 642.4,170.7 641.1,182.3 640.9,198.5 642.3,215.8 644.3,226.2 647.2,235.4 651.5,244.7 662.2,263.1 664.7,270.1 665.8,275.9 665.7,283.9 663.7,294.8 660.3,306.3 655.6,317.3 648.7,330.1 612.4,389Z" fill="#56f7ca"/>
<path d="M613.3,389 669.5,389 669.5,47.2 580.9,47.2 602.4,69.1 630.2,99.4 640.4,113 646.4,124.5 648.5,132.6 648.9,139.6 647.9,148.8 643.4,170.7 642,182.3 641.7,198.5 643.1,215.8 645.1,226.2 648.1,235.4 652.5,244.7 663.3,263.1 665.8,270.1 666.9,275.9 666.7,283.9 664.9,294.3 661.4,305.9 656.8,316.9 648.7,331.7 613.3,389Z" fill="#60fac5"/>
<path d="M614.2,389 669.5,389 669.5,47.2 581.8,47.2 602.4,68.1 631.3,99.6 641.4,113 647.4,124.5 649.3,131.5 649.9,139.6 648.8,148.8 644.3,170.7 642.9,182.3 642.5,197.3 643.7,214.6 645.9,226.2 648.9,235.4 654,245.8 663.9,262 666.6,268.9 667.9,275.9 667.8,283.9 666,293.6 662.6,305.3 657.9,316.4 649.8,331.2 614.2,389Z" fill="#6afdc0"/>
<path d="M615,389 669.5,389 669.5,47.2 582.7,47.2 604.7,69.6 632.5,99.9 642.3,113 648.3,124.5 650.3,131.5 650.9,139.6 649.8,148.4 645,171.9 643.6,183.5 643.3,199.6 644.6,215.8 646.6,226.2 649.7,235.4 654.2,244.7 664.9,262 667.6,268.9 668.9,275.9 668.7,283.9 667.1,293.2 663.7,304.6 659.1,315.8 651,330.7 615,389Z" fill="#74feba"/>
<path d="M615.8,389 669.5,389 669.5,284.8 667.9,293.2 664.9,303.6 657.9,319.9 652.2,330.2 615.8,389ZM669.3,272.4 669.5,47.2 583.5,47.2 607,71.2 633.6,100.2 643.2,113 649.2,124.5 651.2,131.5 651.7,139.6 651,146.8 646,170.7 644.3,183.5 644,199.6 645.3,215.8 647.4,226.2 650.9,236.6 655,244.7 665.8,262 668.2,267.8 669.3,272.4Z" fill="#80ffb4"/>
<path d="M616.5,389 669.5,389 669.5,289.9 664.9,306 657.9,321.4 616.5,389ZM669.4,268.9 669.5,47.2 584.3,47.2 605.9,69.1 633.5,99.1 644,113 650,124.5 652.2,132.6 652.5,140.7 651.5,148.8 646.6,171.9 645.1,183.5 644.7,198.5 645.8,214.6 648.1,226.2 651.7,236.6 656.4,245.8 666.1,260.8 669.4,268.9Z" fill="#8bfeae"/>
<path d="M617.3,389 669.5,389 669.5,293.5 664.8,308.2 657.9,322.8 617.3,389ZM669.1,265.5 669.5,266.5 669.5,47.2 585.1,47.2 607,69.5 634.3,99.1 644.1,111.8 648.2,118.8 650.9,124.5 653,132.6 653.3,140.7 652.2,149.4 647.2,173.1 645.8,183.5 645.4,198.5 646.5,214.6 649.1,227.3 652.9,237.7 657.2,245.8 666.3,259.7 669.1,265.5Z" fill="#94fda8"/>
<path d="M618,389 669.5,389 669.5,296.4 664.9,309.9 657.9,324.1 618,389ZM669,263.1 669.5,264.3 669.5,47.2 585.9,47.2 608.2,69.9 635.1,99.1 645.2,112.4 649,118.8 651.6,124.5 653.8,132.6 654.1,140.7 653.3,147.6 648.3,170.7 646.6,182.3 646,197.3 647.1,213.5 649.5,226.2 653.1,236.6 657.3,244.7 669,263.1Z" fill="#9efaa2"/>
<path d="M618.6,389 669.5,389 669.5,298.9 664.8,311.7 657.9,325.3 618.6,389ZM669.3,262 669.5,47.2 586.6,47.2 608.2,69.1 635.8,99.1 646.3,113 652.4,124.5 654.5,132.6 654.8,140.7 653.6,150 648.6,173.1 647.1,183.5 646.6,197.3 647.7,213.5 650.2,226.2 653.8,236.6 658.7,245.8 669.3,262Z" fill="#a8f79c"/>
<path d="M619.3,389 669.5,389 669.5,301.1 664.9,313.1 659.1,324.4 619.3,389ZM669.4,260.8 669.5,47.2 587.3,47.2 609.3,69.6 636.5,99.1 646.4,112 649.8,117.7 653.1,124.5 655.2,132.6 655.6,140.7 654.5,148.8 649.4,171.9 647.9,182.3 647.3,196.2 648.2,212.3 650.6,225 654.6,236.6 659.4,245.8 669.4,260.8Z" fill="#b4f295"/>
<path d="M619.9,389 669.5,389 669.5,303.1 664.9,314.5 659.1,325.6 619.9,389ZM669.5,259.7 669.5,47.2 587.9,47.2 611.6,71.4 637.2,99.1 647.5,112.7 653.8,124.5 655.9,132.6 656.2,140.7 655.2,148.8 650.3,170.7 648.5,182.3 647.9,196.2 648.9,212.3 651.2,225 655.3,236.6 660.1,245.8 669.5,259.7Z" fill="#beec8e"/>
<path d="M620.5,389 669.5,389 669.5,304.9 664.9,315.8 659.1,326.6 620.5,389ZM669.5,258.5 669.5,47.2 588.6,47.2 610.5,69.5 637.8,99.1 648.4,113 654.4,124.5 656.6,132.6 656.9,140.7 655.8,148.8 650.7,171.9 649.1,182.3 648.5,195 649.4,211.2 651.6,223.9 655.4,235.4 660.8,245.8 669.5,258.5Z" fill="#c8e688"/>
<path d="M621.1,389 669.5,389 669.5,306.5 664.9,317.1 659.1,327.7 621.1,389ZM669.4,257.4 669.5,47.2 589.2,47.2 612.8,71.3 638.4,99.1 648.7,112.5 655,124.5 657.2,132.6 657.5,140.7 656.5,148.8 651.5,170.7 649.7,182.3 649.1,195 650,211.2 652.2,223.9 656.1,235.4 661.5,245.8 669.4,257.4Z" fill="#d2de81"/>
<path d="M621.6,389 669.5,389 669.5,308.1 665.3,317.4 660.3,326.7 621.6,389ZM669.3,256.2 669.5,47.2 589.8,47.2 611.6,69.4 639,99.1 649.6,113 655.7,124.5 657.8,132.6 658.1,140.7 656.8,150 651.8,171.9 650.2,182.3 649.6,195 650.5,210 652.6,222.7 656.3,234.3 661.5,244.7 669.3,256.2Z" fill="#ded579"/>
<path d="M622.2,389 669.5,389 669.5,309.4 660.3,327.6 622.2,389ZM669.1,255.1 669.5,255.7 669.5,47.2 590.4,47.2 614,71.2 639.6,99.1 649.8,112.5 653.6,118.8 656.2,124.5 658.4,132.6 658.7,140.7 657.7,148.8 652.6,170.7 650.9,181.1 650.2,193.8 651,208.9 652.9,221.6 656.5,233.1 661.5,243.5 669.1,255.1Z" fill="#e8cb72"/>
<path d="M622.7,389 669.5,389 669.5,310.7 660.3,328.5 622.7,389ZM668.9,253.9 669.5,254.8 669.5,47.2 590.9,47.2 614,70.6 640.2,99.1 650.7,113 656.8,124.5 659,132.6 659.3,140.7 658,150 653.2,170.7 651.4,181.1 650.8,192.7 651.6,208.9 653.5,221.6 656.6,232 661.5,242.4 668.9,253.9Z" fill="#f2c26b"/>
<path d="M623.2,389 669.5,389 669.5,312 660.3,329.4 641.4,359 623.2,389ZM668.7,252.8 669.5,253.9 669.5,47.2 591.5,47.2 615.1,71.3 640.7,99.1 651.3,113 657.4,124.5 659.5,132.6 659.8,140.7 658.8,148.8 653.7,170.7 652,181.1 651.3,192.7 652,207.7 653.8,220.4 657.3,232 662.1,242.4 668.7,252.8Z" fill="#fcb763"/>
<path d="M623.7,389 669.5,389 669.5,313.1 660.3,330.1 641.2,360.2 623.7,389ZM669.3,252.8 669.5,47.2 592,47.2 615.1,70.7 641.3,99.1 651.8,113 657.9,124.5 660.1,132.6 660.4,140.7 659.1,150 654.2,170.7 652.5,181.1 651.9,192.7 652.6,207.7 654.2,219.3 657.4,230.8 662.1,241.2 669.3,252.8Z" fill="#ffac5c"/>
<path d="M624.2,389 669.5,389 669.5,314.2 661.4,329.1 642.4,359 624.2,389ZM669.1,251.6 669.5,252.1 669.5,47.2 592.5,47.2 616.3,71.4 641.8,99.1 652.4,113 658.4,124.5 660.6,132.6 660.9,140.7 659.6,150 654.9,169.6 653.1,180 652.4,191.5 653,206.6 654.7,219.3 657.6,229.7 662.1,240 669.1,251.6Z" fill="#ff9d53"/>
<path d="M624.6,389 669.5,389 669.5,315.2 661.4,329.9 642.2,360.2 624.6,389ZM668.9,250.4 669.5,251.3 669.5,47.2 593,47.2 616.3,70.8 642.3,99.1 652.9,113 658.9,124.5 661.1,132.6 661.4,140.7 660.1,150 655.2,170.7 653.6,180 652.9,191.5 653.6,206.6 655.3,219.3 658.1,229.7 662.1,238.9 668.9,250.4Z" fill="#ff914c"/>
<path d="M625.1,389 669.5,389 669.5,316.2 662.5,329 643.3,359 625.1,389ZM668.8,249.3 669.5,250.4 669.5,47.2 593.5,47.2 616.3,70.3 642.8,99.1 653.4,113 659.4,124.5 661.6,132.6 661.9,140.7 660.6,150 655.9,169.6 654.1,180 653.5,191.5 654,205.4 655.6,218.1 658.3,228.5 662.7,238.9 668.8,249.3Z" fill="#ff8444"/>
<path d="M625.6,389 669.5,389 669.5,317.1 662.6,329.5 644.5,357.9 625.6,389ZM669.4,249.3 669.5,47.2 594,47.2 619.7,73.5 644.1,100.1 654.5,114 660.3,125.5 662.2,133.8 662.3,141.9 660.9,151.1 656.4,169.6 654.7,178.8 654,190.4 654.5,205.4 656.1,218.1 658.8,228.5 663.2,238.9 669.4,249.3Z" fill="#ff763d"/>
<path d="M626,389 669.5,389 669.5,318 662.6,330.3 643.5,360.2 626,389ZM669.2,248.1 669.5,47.2 594.5,47.2 617.4,70.5 643.7,99.1 654.3,113 660.4,124.5 662.5,132.6 662.8,140.7 661.4,150.8 656.6,170.7 655,180 654.5,191.5 655,205.4 656.4,216.9 658.9,227.3 663.2,237.7 669.2,248.1Z" fill="#ff6533"/>
<path d="M626.4,389 669.5,389 669.5,318.8 662.6,331 644.6,359 626.4,389ZM669,247 669.5,247.8 669.5,47.2 594.9,47.2 619.7,72.5 644.2,99.1 654.7,113 660.8,124.5 663,132.6 663.3,140.7 662,150 657.3,169.6 655.6,178.8 654.9,190.4 655.4,204.2 656.9,216.9 659.4,227.3 663.2,236.6 669,247Z" fill="#ff562c"/>
<path d="M626.8,389 669.5,389 669.5,319.7 663.7,329.8 645.8,357.9 626.8,389ZM668.8,245.8 669.5,246.9 669.5,47.2 595.4,47.2 619.7,72 645.2,99.9 655.6,113.7 661.4,124.9 663.6,133.8 663.7,141.9 662.5,150 657.7,169.6 656.1,178.8 655.4,189.2 655.8,203.1 657.2,215.8 659.6,226.2 663.1,235.4 668.8,245.8Z" fill="#ff4724"/>
<path d="M627.2,389 669.5,389 669.5,320.4 627.2,389ZM669.3,245.8 669.5,47.2 595.8,47.2 618.6,70.4 645,99.1 655.6,113 661.7,124.5 663.9,132.6 664.2,140.7 662.7,151.1 658.1,169.6 656.5,178.8 655.9,190.4 656.3,204.2 657.6,215.8 660,226.2 663.7,235.4 669.3,245.8Z" fill="#ff381c"/>
<path d="M627.6,389 669.5,389 669.5,321.2 627.6,389ZM669.2,244.7 669.5,47.2 596.2,47.2 622.1,73.6 646.4,100.2 656.8,114.2 662.5,125.7 664.4,133.8 664.5,141.9 663.1,151.1 658.6,169.6 657.1,177.7 656.4,188.1 656.7,201.9 657.9,214.6 660.2,225 663.6,234.3 669.2,244.7Z" fill="#ff2914"/>
<path d="M628.1,389 669.5,389 669.5,321.9 628.1,389ZM669,243.5 669.5,244.4 669.5,47.2 596.6,47.2 628.1,79.5 647.8,101.4 657.2,114.2 662.6,124.7 664.7,132.6 665.1,140.7 663.8,150 659,169.6 657.5,177.7 656.8,189.2 657.1,201.9 658.3,214.6 660.6,225 664.1,234.3 669,243.5Z" fill="#ff160b"/>
<path d="M628.5,389 669.5,389 669.5,322.6 665.3,330.1 647.4,357.9 628.5,389ZM669.5,243.5 669.5,47.2 597.2,47.2 615.5,65.6 644.5,96.8 656.3,111.8 663.1,124.5 665.4,133.8 665.4,143 664.1,151.1 659.9,167.3 657.9,177.9 657.4,186.9 657.6,201.9 658.8,214.6 661.1,225 664.5,234.3 669.5,243.5Z" fill="#ff0603"/>
</g>
<rect x="456.5" y="48.0" width="212.1" height="341.0" fill="none" stroke="#3a3a3a" stroke-width="2.1"/>
<path d="M465.8,389.0v-9.6M465.8,48.0v9.6M512.1,389.0v-9.6M512.1,48.0v9.6M558.4,389.0v-9.6M558.4,48.0v9.6M604.7,389.0v-9.6M604.7,48.0v9.6M651.0,389.0v-9.6M651.0,48.0v9.6M456.5,379.8h9.6M668.6,379.8h-9.6M456.5,333.6h9.6M668.6,333.6h-9.6M456.5,287.4h9.6M668.6,287.4h-9.6M456.5,241.2h9.6M668.6,241.2h-9.6M456.5,195.0h9.6M668.6,195.0h-9.6M456.5,148.8h9.6M668.6,148.8h-9.6M456.5,102.6h9.6M668.6,102.6h-9.6M456.5,56.4h9.6M668.6,56.4h-9.6" stroke="#3a3a3a" stroke-width="1.25" fill="none"/>
<text transform="translate(456.25,418.00) scale(1.0000,1)" font-family="'Liberation Serif','Times New Roman',serif" font-size="33.80" fill="#333">4</text>
<text transform="translate(502.21,418.00) scale(1.0000,1)" font-family="'Liberation Serif','Times New Roman',serif" font-size="33.80" fill="#333">5</text>
<text transform="translate(548.68,418.00) scale(1.0000,1)" font-family="'Liberation Serif','Times New Roman',serif" font-size="33.80" fill="#333">6</text>
<text transform="translate(593.37,418.00) scale(1.0000,1)" font-family="'Liberation Serif','Times New Roman',serif" font-size="33.80" fill="#333">7</text>
<text transform="translate(641.45,418.00) scale(1.0000,1)" font-family="'Liberation Serif','Times New Roman',serif" font-size="33.80" fill="#333">8</text>
<text transform="translate(428.45,390.20) scale(1.0000,1)" font-family="'Liberation Serif','Times New Roman',serif" font-size="33.80" fill="#333">3</text>
<text transform="translate(406.63,393.52) scale(1.1645,1)" font-family="'Liberation Serif','Times New Roman',serif" font-size="33.80" fill="#333">−</text>
<text transform="translate(429.13,344.00) scale(1.0000,1)" font-family="'Liberation Serif','Times New Roman',serif" font-size="33.80" fill="#333">2</text>
<text transform="translate(406.63,347.32) scale(1.1645,1)" font-family="'Liberation Serif','Times New Roman',serif" font-size="33.80" fill="#333">−</text>
<text transform="translate(427.93,297.80) scale(1.0000,1)" font-family="'Liberation Serif','Times New Roman',serif" font-size="33.80" fill="#333">1</text>
<text transform="translate(406.63,301.12) scale(1.1645,1)" font-family="'Liberation Serif','Times New Roman',serif" font-size="33.80" fill="#333">−</text>
<text transform="translate(430.75,249.10) scale(1.0000,1)" font-family="'Liberation Serif','Times New Roman',serif" font-size="33.80" fill="#333">0</text>
<text transform="translate(427.93,201.90) scale(1.0000,1)" font-family="'Liberation Serif','Times New Roman',serif" font-size="33.80" fill="#333">1</text>
<text transform="translate(430.93,156.30) scale(1.0000,1)" font-family="'Liberation Serif','Times New Roman',serif" font-size="33.80" fill="#333">2</text>
<text transform="translate(430.25,110.80) scale(1.0000,1)" font-family="'Liberation Serif','Times New Roman',serif" font-size="33.80" fill="#333">3</text>
<text transform="translate(430.08,63.60) scale(1.0000,1)" font-family="'Liberation Serif','Times New Roman',serif" font-size="33.80" fill="#333">4</text>
<text transform="translate(393.20,35.20) scale(0.9473,1)" font-family="'Liberation Sans',Arial,Helvetica,sans-serif" font-size="42.00" fill="#000">With TBMs and FIs</text>
<clipPath id="c2"><path d="M308.5,667.9 L308.5,664.5 L308.4,661.1 L308.3,657.7 L308.2,654.3 L308,650.9 L307.7,647.5 L307.4,644.1 L307,640.8 L306.5,637.4 L306,634 L305.4,630.7 L304.7,627.3 L304,624 L303.2,620.7 L302.3,617.4 L301.3,614.2 L300.3,610.9 L299.2,607.7 L298,604.6 L296.8,601.4 L295.4,598.3 L294,595.2 L292.5,592.2 L290.9,589.2 L289.3,586.3 L287.6,583.4 L285.8,580.5 L283.9,577.7 L282,574.9 L280,572.2 L277.9,569.5 L275.8,566.8 L273.6,564.2 L271.4,561.7 L269.1,559.2 L266.7,556.7 L264.3,554.3 L261.9,552 L259.4,549.7 L256.8,547.4 L254.3,545.3 L251.6,543.1 L249,541 L246.3,539 L243.6,537 L240.8,535.1 L238,533.3 L235.1,531.4 L232.3,529.7 L229.4,527.9 L226.5,526.2 L223.5,524.6 L220.5,523 L217.5,521.4 L214.4,519.9 L211.4,518.3 L208.3,516.9 L205.2,515.4 L202,514 L198.9,512.5 L195.7,511.1 L192.5,509.8 L189.3,508.6 L186,507.5 L182.8,506.8 L179.6,506.5 L176.3,506.7 L173.1,507.2 L170,508.2 L166.9,509.6 L163.9,511.2 L161,513.1 L158.2,515.3 L155.6,517.5 L153.1,520 L150.7,522.5 L148.5,525.1 L146.5,527.8 L144.5,530.6 L142.7,533.4 L141.1,536.4 L139.5,539.4 L138,542.4 L136.6,545.5 L135.3,548.6 L134.1,551.7 L133,554.9 L131.9,558.1 L130.9,561.3 L129.9,564.5 L129,567.8 L128.2,571 L127.4,574.3 L126.7,577.6 L126,580.8 L125.4,584.2 L124.8,587.5 L124.3,590.8 L123.8,594.1 L123.4,597.5 L123,600.8 L122.6,604.2 L122.3,607.6 L122,611 L121.8,614.3 L121.6,617.7 L121.4,621.1 L121.2,624.5 L121.1,627.9 L121,631.3 L120.9,634.7 L120.8,638.1 L120.8,641.5 L120.8,644.9 L120.8,648.3 L120.8,651.7 L120.8,655.1 L120.8,658.5 L120.9,661.9 L121,665.3 L121.1,668.7 L121.2,672.1 L121.3,675.5 L121.5,678.8 L121.7,682.2 L121.8,685.6 L122.1,689 L122.3,692.3 L122.6,695.7 L122.9,699 L123.2,702.4 L123.5,705.8 L123.9,709.1 L124.3,712.5 L124.7,715.8 L125.2,719.1 L125.7,722.5 L126.2,725.8 L126.7,729.1 L127.3,732.4 L127.9,735.8 L128.5,739.1 L129.2,742.4 L129.9,745.7 L130.6,749 L131.4,752.3 L132.2,755.6 L133,758.8 L133.9,762.1 L134.8,765.4 L135.7,768.6 L136.6,771.9 L137.6,775.1 L138.7,778.3 L139.8,781.6 L140.9,784.8 L142,788 L143.2,791.2 L144.4,794.4 L145.7,797.6 L147,800.7 L148.3,803.8 L149.8,806.9 L151.4,809.9 L153.1,812.8 L155,815.6 L157,818.3 L159.2,820.9 L161.6,823.3 L164.2,825.5 L167,827.6 L170,829.2 L173.1,830.1 L176.2,830.3 L179.4,829.7 L182.5,828.7 L185.7,827.6 L188.8,826.4 L192,825.2 L195.1,823.9 L198.3,822.5 L201.4,821.1 L204.5,819.6 L207.6,818.1 L210.6,816.5 L213.7,814.9 L216.7,813.2 L219.6,811.5 L222.6,809.7 L225.5,807.8 L228.3,805.9 L231.1,804 L233.9,802 L236.6,799.9 L239.2,797.8 L241.9,795.7 L244.4,793.5 L247,791.3 L249.4,789 L251.9,786.7 L254.3,784.4 L256.6,782 L258.9,779.5 L261.2,777 L263.4,774.5 L265.6,772 L267.7,769.4 L269.8,766.7 L271.9,764.1 L273.9,761.4 L275.9,758.6 L277.8,755.9 L279.7,753 L281.6,750.2 L283.4,747.3 L285.1,744.4 L286.9,741.5 L288.6,738.5 L290.2,735.6 L291.9,732.5 L293.4,729.5 L294.9,726.4 L296.4,723.3 L297.8,720.2 L299.1,717.1 L300.4,713.9 L301.5,710.7 L302.6,707.5 L303.6,704.3 L304.5,701.1 L305.2,697.8 L305.9,694.6 L306.5,691.3 L307,688 L307.4,684.7 L307.8,681.3 L308.1,678 L308.3,674.6 L308.4,671.3Z"/></clipPath>
<g clip-path="url(#c2)">
<path d="M308.5,667.9 L308.5,664.5 L308.4,661.1 L308.3,657.7 L308.2,654.3 L308,650.9 L307.7,647.5 L307.4,644.1 L307,640.8 L306.5,637.4 L306,634 L305.4,630.7 L304.7,627.3 L304,624 L303.2,620.7 L302.3,617.4 L301.3,614.2 L300.3,610.9 L299.2,607.7 L298,604.6 L296.8,601.4 L295.4,598.3 L294,595.2 L292.5,592.2 L290.9,589.2 L289.3,586.3 L287.6,583.4 L285.8,580.5 L283.9,577.7 L282,574.9 L280,572.2 L277.9,569.5 L275.8,566.8 L273.6,564.2 L271.4,561.7 L269.1,559.2 L266.7,556.7 L264.3,554.3 L261.9,552 L259.4,549.7 L256.8,547.4 L254.3,545.3 L251.6,543.1 L249,541 L246.3,539 L243.6,537 L240.8,535.1 L238,533.3 L235.1,531.4 L232.3,529.7 L229.4,527.9 L226.5,526.2 L223.5,524.6 L220.5,523 L217.5,521.4 L214.4,519.9 L211.4,518.3 L208.3,516.9 L205.2,515.4 L202,514 L198.9,512.5 L195.7,511.1 L192.5,509.8 L189.3,508.6 L186,507.5 L182.8,506.8 L179.6,506.5 L176.3,506.7 L173.1,507.2 L170,508.2 L166.9,509.6 L163.9,511.2 L161,513.1 L158.2,515.3 L155.6,517.5 L153.1,520 L150.7,522.5 L148.5,525.1 L146.5,527.8 L144.5,530.6 L142.7,533.4 L141.1,536.4 L139.5,539.4 L138,542.4 L136.6,545.5 L135.3,548.6 L134.1,551.7 L133,554.9 L131.9,558.1 L130.9,561.3 L129.9,564.5 L129,567.8 L128.2,571 L127.4,574.3 L126.7,577.6 L126,580.8 L125.4,584.2 L124.8,587.5 L124.3,590.8 L123.8,594.1 L123.4,597.5 L123,600.8 L122.6,604.2 L122.3,607.6 L122,611 L121.8,614.3 L121.6,617.7 L121.4,621.1 L121.2,624.5 L121.1,627.9 L121,631.3 L120.9,634.7 L120.8,638.1 L120.8,641.5 L120.8,644.9 L120.8,648.3 L120.8,651.7 L120.8,655.1 L120.8,658.5 L120.9,661.9 L121,665.3 L121.1,668.7 L121.2,672.1 L121.3,675.5 L121.5,678.8 L121.7,682.2 L121.8,685.6 L122.1,689 L122.3,692.3 L122.6,695.7 L122.9,699 L123.2,702.4 L123.5,705.8 L123.9,709.1 L124.3,712.5 L124.7,715.8 L125.2,719.1 L125.7,722.5 L126.2,725.8 L126.7,729.1 L127.3,732.4 L127.9,735.8 L128.5,739.1 L129.2,742.4 L129.9,745.7 L130.6,749 L131.4,752.3 L132.2,755.6 L133,758.8 L133.9,762.1 L134.8,765.4 L135.7,768.6 L136.6,771.9 L137.6,775.1 L138.7,778.3 L139.8,781.6 L140.9,784.8 L142,788 L143.2,791.2 L144.4,794.4 L145.7,797.6 L147,800.7 L148.3,803.8 L149.8,806.9 L151.4,809.9 L153.1,812.8 L155,815.6 L157,818.3 L159.2,820.9 L161.6,823.3 L164.2,825.5 L167,827.6 L170,829.2 L173.1,830.1 L176.2,830.3 L179.4,829.7 L182.5,828.7 L185.7,827.6 L188.8,826.4 L192,825.2 L195.1,823.9 L198.3,822.5 L201.4,821.1 L204.5,819.6 L207.6,818.1 L210.6,816.5 L213.7,814.9 L216.7,813.2 L219.6,811.5 L222.6,809.7 L225.5,807.8 L228.3,805.9 L231.1,804 L233.9,802 L236.6,799.9 L239.2,797.8 L241.9,795.7 L244.4,793.5 L247,791.3 L249.4,789 L251.9,786.7 L254.3,784.4 L256.6,782 L258.9,779.5 L261.2,777 L263.4,774.5 L265.6,772 L267.7,769.4 L269.8,766.7 L271.9,764.1 L273.9,761.4 L275.9,758.6 L277.8,755.9 L279.7,753 L281.6,750.2 L283.4,747.3 L285.1,744.4 L286.9,741.5 L288.6,738.5 L290.2,735.6 L291.9,732.5 L293.4,729.5 L294.9,726.4 L296.4,723.3 L297.8,720.2 L299.1,717.1 L300.4,713.9 L301.5,710.7 L302.6,707.5 L303.6,704.3 L304.5,701.1 L305.2,697.8 L305.9,694.6 L306.5,691.3 L307,688 L307.4,684.7 L307.8,681.3 L308.1,678 L308.3,674.6 L308.4,671.3Z" fill="#7c06ff"/>
<path d="M201.4,838.3 318.1,838.3 318.1,497.2 162.8,497.2 224.4,556 234.4,567.5 240.7,577.9 243.6,585.9 245,594 244.7,630.9 247.8,662 250.3,674.7 259,702.3 261.4,713.9 261.5,724.2 260,734.6 256.4,747.3 251,760.4 241.7,776.8 219.4,809.5 201.4,838.3Z" fill="#7216ff"/>
<path d="M216.2,838.3 318.1,838.3 318.1,497.2 179.3,497.2 238.5,554.8 248.3,566.3 254.5,576.7 257.3,584.8 258.5,592.8 257.3,629.7 258.1,642.4 260.2,660.8 263.4,675.8 272.9,703.5 275.4,715 275.6,725.4 274,735.7 270.7,747.5 265,761.1 256.7,776.1 234.2,809.5 216.2,838.3Z" fill="#6629fe"/>
<path d="M224.6,838.3 318.1,838.3 318.1,497.2 188.6,497.2 246.4,554 256.6,566.3 262.5,576.7 264.9,583.6 266.1,591.7 264.5,629.7 265.3,642.4 267.4,660.8 270.3,674.7 280.9,704.6 283.4,716.2 283.5,726.5 281.8,736.9 278,749.6 273,761.4 264.8,776.1 242.5,809.5 224.6,838.3Z" fill="#5c38fd"/>
<path d="M230.4,838.3 318.1,838.3 318.1,497.2 195,497.2 252,553.7 262.4,566.3 268.2,576.7 270.7,584.7 271.5,591.7 269.6,629.7 270.2,641.2 272.3,659.7 275.8,675.8 286.3,704.6 289,717.3 289,726.5 287.1,738.1 283.4,750.2 278.8,761.1 269.5,777.6 248.3,809.5 230.4,838.3Z" fill="#5247fc"/>
<path d="M234.8,838.3 318.1,838.3 318.1,497.2 199.9,497.2 256.6,553.7 266,565.3 272.5,576.7 274.7,583.6 275.7,591.7 273.5,628.6 274,640.1 276.2,659.7 279.4,674.7 290.4,704.6 293.2,717.3 293.3,726.5 291.5,737.7 288,749.3 283.1,761.1 274.1,777.2 252.7,809.5 234.8,838.3Z" fill="#4856fb"/>
<path d="M238.4,838.3 318.1,838.3 318.1,497.2 203.9,497.2 259.2,552.5 269.5,565.1 275.5,575.5 277.8,582.5 279,590.5 278.9,598.6 277.1,618.2 276.7,628.6 277.3,641.2 279.4,659.7 282.9,675.8 293.8,704.8 296.6,717.3 296.7,726.5 295,737.7 291.5,749.3 286.6,761.1 277.6,777.2 256.2,809.5 238.4,838.3Z" fill="#3e65fa"/>
<path d="M241.4,838.3 318.1,838.3 318.1,497.2 207.2,497.2 262.6,552.8 272.5,565.2 278.8,576.5 281,583.6 281.9,591.7 279.4,628.6 279.9,640.1 281.9,658.5 285.3,674.7 296.9,705.8 299.6,718.4 299.5,727.7 297.8,738.1 293.9,750.7 289.2,761.8 279.9,778.2 260,808.4 241.4,838.3Z" fill="#3176f8"/>
<path d="M244,838.3 318.1,838.3 318.1,497.2 210,497.2 264.9,552.5 275.1,565.2 280.9,575.5 283.4,583.5 284.3,590.5 284.2,597.4 282.1,618.2 281.7,628.6 282.2,640.1 284.2,658.5 287.6,674.7 299.3,705.8 302,717.3 302.1,726.5 300.6,736.9 297.2,748.4 291.5,762.2 283.4,776.7 261.8,809.5 244,838.3Z" fill="#2884f6"/>
<path d="M246.2,838.3 318.1,838.3 318.1,497.2 212.5,497.2 267.2,552.5 277.3,565.2 283.1,575.5 285.3,582.5 286.4,590.5 283.7,628.6 284.3,641.2 286.4,659.7 289.7,674.7 301.5,705.8 303.1,711.5 304.2,718.5 304.2,727.7 302.5,738.1 298.6,750.7 293.8,762 284.6,778.4 264,809.5 246.2,838.3Z" fill="#1e91f3"/>
<path d="M248.2,838.3 318.1,838.3 318.1,497.2 214.7,497.2 268.3,551.4 278.8,564.3 285.1,575.5 287.3,582.5 288.3,590.5 285.6,628.6 286.1,641.2 288.2,659.7 291.8,675.8 303.1,704.9 305.3,712.7 306.2,718.5 306.2,727.7 304.4,738.1 300.8,750.2 296.1,761.2 288,776.1 266.8,808.4 248.2,838.3Z" fill="#149df1"/>
<path d="M250,838.3 318.1,838.3 318.1,497.2 216.7,497.2 270.7,552 281.1,565.1 286.8,575.5 289.2,583.2 290,590.5 287.2,628.6 287.7,640.1 289.7,658.5 293.1,674.7 305.1,705.8 307,712.7 307.9,718.5 307.9,727.7 306.2,738.1 302.7,749.6 297.4,762.3 289.2,777 267.8,809.5 250,838.3Z" fill="#08acee"/>
<path d="M251.7,838.3 318.1,838.3 318.1,497.2 218.5,497.2 271.8,551.4 282.2,564.4 288.4,575.5 290.6,582.5 291.6,590.5 288.7,628.6 289.3,641.2 291.2,658.5 294.6,674.7 306.5,705.5 308.6,712.7 309.5,718.5 309.5,727.7 307.8,738.1 304.2,749.9 299.6,761.1 290.3,777.7 270.2,808.4 251.7,838.3Z" fill="#02b7eb"/>
<path d="M253.2,838.3 318.1,838.3 318.1,497.2 220.1,497.2 257.9,535.1 274.1,552.2 283.5,564 289.9,575.5 292.1,582.5 293,590.5 290.1,628.6 290.6,641.2 292.6,658.5 294.2,667.8 296.4,675.8 307.7,704.7 310,712.7 310.9,718.5 311,727.7 309.3,738.1 305.4,750.7 300.8,761.7 291.5,778.3 271,809.5 253.2,838.3Z" fill="#0dc2e8"/>
<path d="M254.6,838.3 318.1,838.3 318.1,497.2 221.6,497.2 255.6,531.3 275.3,551.9 285.7,565.2 291.3,575.5 293.4,582.5 294.3,590.5 291.4,628.6 291.9,641.2 294,659.7 297.6,675.8 309.4,705.8 311.2,711.9 312.3,718.5 312.3,727.7 310.6,738.1 306.8,750.7 301.9,762.1 293.8,776.7 272.3,809.5 254.6,838.3Z" fill="#17cbe4"/>
<path d="M255.9,838.3 318.1,838.3 318.1,497.2 223,497.2 246.4,520.4 276.1,551.3 286.9,565 292.5,575.5 294.7,582.5 295.6,590.5 292.5,628.6 293.1,641.2 295.2,659.7 298.8,675.8 310.6,705.8 312.3,711.6 313.5,718.5 313.6,727.7 311.9,738.1 308.4,749.6 303.1,762.3 295,776.9 273.6,809.5 255.9,838.3Z" fill="#20d5e1"/>
<path d="M257.1,838.3 318.1,838.3 318.1,497.2 224.3,497.2 248.7,521.5 277.3,551.3 288,565 293.7,575.5 295.8,582.5 296.7,590.5 293.6,628.6 294.2,641.2 296.3,659.7 299.9,675.8 311.8,705.8 313.5,711.6 314.7,718.5 314.8,727.7 313.1,738.1 309.6,749.6 304.3,762.3 296.1,777 274.8,809.5 257.1,838.3Z" fill="#2ddedc"/>
<path d="M258.2,838.3 318.1,838.3 318.1,497.2 225.5,497.2 249.8,521.4 278.5,551.3 289.2,565 294.8,575.5 296.9,582.5 297.8,590.5 294.7,628.6 295.2,641.2 297.2,658.5 298.8,667.8 301,675.8 312.8,705.8 314.6,711.9 315.8,718.5 315.8,727.7 314.2,738.1 310.3,750.7 305.4,762.3 297.3,776.9 275.9,809.5 258.2,838.3Z" fill="#37e6d8"/>
<path d="M259.3,838.3 318.1,838.3 318.1,497.2 226.7,497.2 251,521.4 279.6,551.3 290.3,565.2 295.9,575.5 297.9,582.5 298.8,590.5 295.7,628.6 296.2,641.2 298.1,658.5 301.6,674.7 313.8,705.8 315.8,712.5 316.8,718.5 316.9,727.7 315.2,738.1 311.3,750.7 306.5,762 297.4,778.4 277,809.5 259.3,838.3Z" fill="#40ecd4"/>
<path d="M260.3,838.3 318.1,838.3 318.1,497.2 227.8,497.2 253.3,522.7 280.6,551.3 290.6,564 296.8,575.5 298.9,582.5 299.8,590.5 296.6,628.6 297,640.1 299.1,658.5 302.5,674.7 305.8,683.9 314.8,705.8 316.8,712.7 317.8,718.5 317.8,727.7 316.2,738.1 312.3,750.7 307.7,761.6 298.4,778.3 278,809.5 260.3,838.3Z" fill="#4af2cf"/>
<path d="M261.2,838.3 318.1,838.3 318.1,733 316.2,741.5 313.5,750.1 305.4,768 298.4,779.8 279.7,808.4 261.2,838.3ZM318,713.9 318.1,497.2 228.8,497.2 253.3,521.7 281.1,550.8 291.5,564 297.3,574.4 299.6,581.4 300.7,589.4 300.5,596.3 298.1,617 297.5,628.6 298,641.2 300.1,659.7 301.6,667.8 304.1,677 314.9,703.5 318,713.9Z" fill="#56f7ca"/>
<path d="M262.1,838.3 318.1,838.3 318.1,737.4 313.3,753 305.4,769.6 262.1,838.3ZM318,710.4 318.1,497.2 229.7,497.2 254.5,521.9 282.2,551.1 292.4,564 298.4,575 300.7,582.5 301.5,590.5 298.3,627.4 298.7,640.1 300.6,657.4 302.4,667.8 305,677 315.7,703.5 318,710.4Z" fill="#60fac5"/>
<path d="M262.9,838.3 318.1,838.3 318.1,740.8 313.2,755.3 305.4,771.1 280.7,809.5 262.9,838.3ZM317.8,706.9 318.1,497.2 230.7,497.2 254.5,521 282.3,550.2 292.7,563.1 299,574.4 301.3,581.3 302.3,589.4 302.1,597.4 299.8,615.9 299.1,627.4 299.4,638.9 301.4,657.4 303.2,667.8 305.8,677 317.8,706.9Z" fill="#6afdc0"/>
<path d="M263.8,838.3 318.1,838.3 318.1,743.7 312.5,758.8 305.4,772.5 281.5,809.5 263.8,838.3ZM317.7,704.6 318.1,705.7 318.1,497.2 231.5,497.2 256.8,522.4 283.4,550.5 293.8,563.6 299.8,574.4 302.1,581.3 303.1,589.4 302.9,596.3 300.5,617 299.9,627.4 300.3,640.1 302.1,657.4 303.7,666.6 306.2,675.8 317.7,704.6Z" fill="#74feba"/>
<path d="M264.5,838.3 318.1,838.3 318.1,746.1 312.3,760.8 305.4,773.8 281.5,810.7 264.5,838.3ZM318.1,703.5 318.1,497.2 232.4,497.2 255.6,520.4 284,550.2 294.1,562.9 300.6,574.4 303.1,582.4 303.9,589.4 303.6,597.4 301.2,617 300.6,627.4 300.9,638.9 302.7,656.2 304.7,667.8 307.3,677 318.1,703.5Z" fill="#80ffb4"/>
<path d="M265.3,838.3 318.1,838.3 318.1,748.3 313.4,760 306.5,773.1 283,809.5 265.3,838.3ZM317.8,701.2 318.1,497.2 233.2,497.2 256.8,520.8 284.7,550.2 295,563.1 301.3,574.4 303.6,581.3 304.6,589.4 304.3,597.4 302,615.9 301.3,627.4 301.6,638.9 303.4,656.2 305.1,666.6 307.6,675.8 317.8,701.2Z" fill="#8bfeae"/>
<path d="M266,838.3 318.1,838.3 318.1,750.3 313.5,761.4 306.5,774.3 283.7,809.5 266,838.3ZM318.1,700 318.1,497.2 234,497.2 259.1,522.4 285.5,550.2 296.1,563.7 302,574.4 304.3,581.3 305.3,589.4 305.1,596.3 302.6,617 301.9,627.4 302.3,638.9 303.9,655.1 305.8,666.6 308.3,675.8 318.1,700Z" fill="#94fda8"/>
<path d="M266.7,838.3 318.1,838.3 318.1,752.1 313.5,762.8 306.5,775.4 285.1,808.4 266.7,838.3ZM317.7,697.7 318.1,698.6 318.1,497.2 234.7,497.2 259.1,521.6 286.2,550.2 296.2,562.9 302.7,574.4 304.9,581.3 305.9,589.4 305.6,597.4 303.3,615.9 302.6,627.4 302.9,638.9 304.6,655.1 306.2,665.4 308.5,674.7 311.8,683.9 317.7,697.7Z" fill="#9efaa2"/>
<path d="M267.4,838.3 318.1,838.3 318.1,753.8 313.5,764.1 307.7,774.6 285.1,809.5 267.4,838.3ZM317.9,696.6 318.1,497.2 235.4,497.2 260.2,522.1 286.8,550.2 297.3,563.4 303.4,574.4 305.6,581.3 306.6,589.4 306.3,597.4 303.9,615.9 303.2,626.3 303.4,637.8 305,653.9 306.8,665.4 309.2,674.7 317.9,696.6Z" fill="#a8f79c"/>
<path d="M268,838.3 318.1,838.3 318.1,755.3 313.5,765.3 307.7,775.6 286.4,808.4 268,838.3ZM318,695.4 318.1,497.2 236.1,497.2 260.2,521.4 287.5,550.2 297.5,562.9 304,574.4 306.5,582.5 307.2,589.4 306.9,597.4 304.5,615.9 303.8,626.3 304,637.8 305.6,653.9 307.2,664.3 309.4,673.5 313,683.9 318,695.4Z" fill="#b4f295"/>
<path d="M268.6,838.3 318.1,838.3 318.1,756.8 313.5,766.5 307.7,776.6 286.3,809.5 268.6,838.3ZM318,694.3 318.1,497.2 236.7,497.2 261.4,521.9 288,550.1 298.4,563.3 304.6,574.4 306.8,581.3 307.8,589.4 307.6,596.3 305.1,615.9 304.4,626.3 304.6,637.8 305.9,651.6 307.4,662 309.7,672.4 312.7,681.6 318,694.3Z" fill="#beec8e"/>
<path d="M269.2,838.3 318.1,838.3 318.1,758.1 308.9,775.7 287.6,808.4 269.2,838.3ZM318.1,693.1 318.1,497.2 237.4,497.2 261.4,521.3 288,549.4 298.8,562.9 305.2,574.4 307.6,582.5 308.4,590.5 305,626.3 305.1,636.6 306.4,650.5 308.1,663.1 310.2,672.4 313.3,681.6 318.1,693.1Z" fill="#c8e688"/>
<path d="M269.8,838.3 318.1,838.3 318.1,759.4 308.9,776.6 287.5,809.5 269.8,838.3ZM317.6,690.8 318.1,691.9 318.1,497.2 238,497.2 262.6,521.8 289.2,550 299.6,563.3 305.7,574.4 308.2,582.5 308.9,590.5 305.6,624 305.5,634.3 306.3,644.7 307.9,658.5 309.9,668.9 313,679.3 317.6,690.8Z" fill="#d2de81"/>
<path d="M270.3,838.3 318.1,838.3 318.1,760.6 308.9,777.5 288.8,808.4 270.3,838.3ZM317.6,689.6 318.1,690.7 318.1,497.2 238.6,497.2 262.6,521.2 289.2,549.4 299.9,562.9 306.3,574.4 308.7,582.5 309.5,590.5 306.1,624 306.1,634.3 306.8,644.7 308.4,658.5 310.4,668.9 313.1,678.1 317.6,689.6Z" fill="#ded579"/>
<path d="M270.9,838.3 318.1,838.3 318.1,761.7 308.9,778.4 288.6,809.5 270.9,838.3ZM317.7,688.5 318.1,689.5 318.1,497.2 239.2,497.2 263.7,521.8 290.3,550.1 300.8,563.4 306.8,574.4 309.3,582.5 310,590.5 306.7,622.8 306.5,633.2 307.2,643.5 308.8,657.4 310.6,667.8 313.2,677 317.7,688.5Z" fill="#e8cb72"/>
</g>
<rect x="105.2" y="496.5" width="212.2" height="341.7" fill="none" stroke="#3a3a3a" stroke-width="2.1"/>
<path d="M114.4,838.2v-9.6M114.4,496.5v9.6M160.7,838.2v-9.6M160.7,496.5v9.6M207.0,838.2v-9.6M207.0,496.5v9.6M253.3,838.2v-9.6M253.3,496.5v9.6M299.6,838.2v-9.6M299.6,496.5v9.6M105.2,829.1h9.6M317.4,829.1h-9.6M105.2,783.0h9.6M317.4,783.0h-9.6M105.2,736.9h9.6M317.4,736.9h-9.6M105.2,690.8h9.6M317.4,690.8h-9.6M105.2,644.7h9.6M317.4,644.7h-9.6M105.2,598.6h9.6M317.4,598.6h-9.6M105.2,552.5h9.6M317.4,552.5h-9.6M105.2,506.4h9.6M317.4,506.4h-9.6" stroke="#3a3a3a" stroke-width="1.25" fill="none"/>
<text transform="translate(104.85,867.20) scale(1.0000,1)" font-family="'Liberation Serif','Times New Roman',serif" font-size="33.80" fill="#333">4</text>
<text transform="translate(150.81,867.20) scale(1.0000,1)" font-family="'Liberation Serif','Times New Roman',serif" font-size="33.80" fill="#333">5</text>
<text transform="translate(197.28,867.20) scale(1.0000,1)" font-family="'Liberation Serif','Times New Roman',serif" font-size="33.80" fill="#333">6</text>
<text transform="translate(241.97,867.20) scale(1.0000,1)" font-family="'Liberation Serif','Times New Roman',serif" font-size="33.80" fill="#333">7</text>
<text transform="translate(290.05,867.20) scale(1.0000,1)" font-family="'Liberation Serif','Times New Roman',serif" font-size="33.80" fill="#333">8</text>
<text transform="translate(77.15,839.50) scale(1.0000,1)" font-family="'Liberation Serif','Times New Roman',serif" font-size="33.80" fill="#333">3</text>
<text transform="translate(55.33,842.82) scale(1.1645,1)" font-family="'Liberation Serif','Times New Roman',serif" font-size="33.80" fill="#333">−</text>
<text transform="translate(77.83,793.40) scale(1.0000,1)" font-family="'Liberation Serif','Times New Roman',serif" font-size="33.80" fill="#333">2</text>
<text transform="translate(55.33,796.72) scale(1.1645,1)" font-family="'Liberation Serif','Times New Roman',serif" font-size="33.80" fill="#333">−</text>
<text transform="translate(76.63,747.30) scale(1.0000,1)" font-family="'Liberation Serif','Times New Roman',serif" font-size="33.80" fill="#333">1</text>
<text transform="translate(55.33,750.62) scale(1.1645,1)" font-family="'Liberation Serif','Times New Roman',serif" font-size="33.80" fill="#333">−</text>
<text transform="translate(79.45,698.70) scale(1.0000,1)" font-family="'Liberation Serif','Times New Roman',serif" font-size="33.80" fill="#333">0</text>
<text transform="translate(76.63,651.60) scale(1.0000,1)" font-family="'Liberation Serif','Times New Roman',serif" font-size="33.80" fill="#333">1</text>
<text transform="translate(79.63,606.10) scale(1.0000,1)" font-family="'Liberation Serif','Times New Roman',serif" font-size="33.80" fill="#333">2</text>
<text transform="translate(78.95,560.70) scale(1.0000,1)" font-family="'Liberation Serif','Times New Roman',serif" font-size="33.80" fill="#333">3</text>
<text transform="translate(78.78,513.60) scale(1.0000,1)" font-family="'Liberation Serif','Times New Roman',serif" font-size="33.80" fill="#333">4</text>
<text transform="translate(138.61,484.20) scale(0.9294,1)" font-family="'Liberation Sans',Arial,Helvetica,sans-serif" font-size="42.00" fill="#000">With FIs</text>
<text transform="translate(159.66,912.00) scale(0.9641,1)" font-family="'Liberation Sans',Arial,Helvetica,sans-serif" font-size="42.00" fill="#000">R [m]</text>
<text transform="translate(35.6,713.20) rotate(-90) scale(0.9535,1)" font-family="'Liberation Sans',Arial,Helvetica,sans-serif" font-size="42.0" fill="#000">Z [m]</text>
<clipPath id="c3"><path d="M659.9,667.9 L659.9,664.5 L659.8,661.1 L659.7,657.7 L659.6,654.3 L659.4,650.9 L659.1,647.5 L658.8,644.1 L658.4,640.8 L657.9,637.4 L657.4,634 L656.8,630.7 L656.1,627.3 L655.4,624 L654.6,620.7 L653.7,617.4 L652.7,614.2 L651.7,610.9 L650.6,607.7 L649.4,604.6 L648.2,601.4 L646.8,598.3 L645.4,595.2 L643.9,592.2 L642.3,589.2 L640.7,586.3 L639,583.4 L637.2,580.5 L635.3,577.7 L633.4,574.9 L631.4,572.2 L629.3,569.5 L627.2,566.8 L625,564.2 L622.8,561.7 L620.5,559.2 L618.1,556.7 L615.7,554.3 L613.3,552 L610.8,549.7 L608.2,547.4 L605.7,545.3 L603,543.1 L600.4,541 L597.7,539 L595,537 L592.2,535.1 L589.4,533.3 L586.5,531.4 L583.7,529.7 L580.8,527.9 L577.9,526.2 L574.9,524.6 L571.9,523 L568.9,521.4 L565.8,519.9 L562.8,518.3 L559.7,516.9 L556.6,515.4 L553.4,514 L550.3,512.5 L547.1,511.1 L543.9,509.8 L540.7,508.6 L537.4,507.5 L534.2,506.8 L531,506.5 L527.7,506.7 L524.5,507.2 L521.4,508.2 L518.3,509.6 L515.3,511.2 L512.4,513.1 L509.6,515.3 L507,517.5 L504.5,520 L502.1,522.5 L499.9,525.1 L497.9,527.8 L495.9,530.6 L494.1,533.4 L492.5,536.4 L490.9,539.4 L489.4,542.4 L488,545.5 L486.7,548.6 L485.5,551.7 L484.4,554.9 L483.3,558.1 L482.3,561.3 L481.3,564.5 L480.4,567.8 L479.6,571 L478.8,574.3 L478.1,577.6 L477.4,580.8 L476.8,584.2 L476.2,587.5 L475.7,590.8 L475.2,594.1 L474.8,597.5 L474.4,600.8 L474,604.2 L473.7,607.6 L473.4,611 L473.2,614.3 L473,617.7 L472.8,621.1 L472.6,624.5 L472.5,627.9 L472.4,631.3 L472.3,634.7 L472.2,638.1 L472.2,641.5 L472.2,644.9 L472.2,648.3 L472.2,651.7 L472.2,655.1 L472.2,658.5 L472.3,661.9 L472.4,665.3 L472.5,668.7 L472.6,672.1 L472.7,675.5 L472.9,678.8 L473.1,682.2 L473.2,685.6 L473.5,689 L473.7,692.3 L474,695.7 L474.3,699 L474.6,702.4 L474.9,705.8 L475.3,709.1 L475.7,712.5 L476.1,715.8 L476.6,719.1 L477.1,722.5 L477.6,725.8 L478.1,729.1 L478.7,732.4 L479.3,735.8 L479.9,739.1 L480.6,742.4 L481.3,745.7 L482,749 L482.8,752.3 L483.6,755.6 L484.4,758.8 L485.3,762.1 L486.2,765.4 L487.1,768.6 L488,771.9 L489,775.1 L490.1,778.3 L491.2,781.6 L492.3,784.8 L493.4,788 L494.6,791.2 L495.8,794.4 L497.1,797.6 L498.4,800.7 L499.7,803.8 L501.2,806.9 L502.8,809.9 L504.5,812.8 L506.4,815.6 L508.4,818.3 L510.6,820.9 L513,823.3 L515.6,825.5 L518.4,827.6 L521.4,829.2 L524.5,830.1 L527.6,830.3 L530.8,829.7 L533.9,828.7 L537.1,827.6 L540.2,826.4 L543.4,825.2 L546.5,823.9 L549.7,822.5 L552.8,821.1 L555.9,819.6 L559,818.1 L562,816.5 L565.1,814.9 L568.1,813.2 L571,811.5 L574,809.7 L576.9,807.8 L579.7,805.9 L582.5,804 L585.3,802 L588,799.9 L590.6,797.8 L593.3,795.7 L595.8,793.5 L598.4,791.3 L600.8,789 L603.3,786.7 L605.7,784.4 L608,782 L610.3,779.5 L612.6,777 L614.8,774.5 L617,772 L619.1,769.4 L621.2,766.7 L623.3,764.1 L625.3,761.4 L627.3,758.6 L629.2,755.9 L631.1,753 L633,750.2 L634.8,747.3 L636.5,744.4 L638.3,741.5 L640,738.5 L641.6,735.6 L643.3,732.5 L644.8,729.5 L646.3,726.4 L647.8,723.3 L649.2,720.2 L650.5,717.1 L651.8,713.9 L652.9,710.7 L654,707.5 L655,704.3 L655.9,701.1 L656.6,697.8 L657.3,694.6 L657.9,691.3 L658.4,688 L658.8,684.7 L659.2,681.3 L659.5,678 L659.7,674.6 L659.8,671.3Z"/></clipPath>
<g clip-path="url(#c3)">
<path d="M659.9,667.9 L659.9,664.5 L659.8,661.1 L659.7,657.7 L659.6,654.3 L659.4,650.9 L659.1,647.5 L658.8,644.1 L658.4,640.8 L657.9,637.4 L657.4,634 L656.8,630.7 L656.1,627.3 L655.4,624 L654.6,620.7 L653.7,617.4 L652.7,614.2 L651.7,610.9 L650.6,607.7 L649.4,604.6 L648.2,601.4 L646.8,598.3 L645.4,595.2 L643.9,592.2 L642.3,589.2 L640.7,586.3 L639,583.4 L637.2,580.5 L635.3,577.7 L633.4,574.9 L631.4,572.2 L629.3,569.5 L627.2,566.8 L625,564.2 L622.8,561.7 L620.5,559.2 L618.1,556.7 L615.7,554.3 L613.3,552 L610.8,549.7 L608.2,547.4 L605.7,545.3 L603,543.1 L600.4,541 L597.7,539 L595,537 L592.2,535.1 L589.4,533.3 L586.5,531.4 L583.7,529.7 L580.8,527.9 L577.9,526.2 L574.9,524.6 L571.9,523 L568.9,521.4 L565.8,519.9 L562.8,518.3 L559.7,516.9 L556.6,515.4 L553.4,514 L550.3,512.5 L547.1,511.1 L543.9,509.8 L540.7,508.6 L537.4,507.5 L534.2,506.8 L531,506.5 L527.7,506.7 L524.5,507.2 L521.4,508.2 L518.3,509.6 L515.3,511.2 L512.4,513.1 L509.6,515.3 L507,517.5 L504.5,520 L502.1,522.5 L499.9,525.1 L497.9,527.8 L495.9,530.6 L494.1,533.4 L492.5,536.4 L490.9,539.4 L489.4,542.4 L488,545.5 L486.7,548.6 L485.5,551.7 L484.4,554.9 L483.3,558.1 L482.3,561.3 L481.3,564.5 L480.4,567.8 L479.6,571 L478.8,574.3 L478.1,577.6 L477.4,580.8 L476.8,584.2 L476.2,587.5 L475.7,590.8 L475.2,594.1 L474.8,597.5 L474.4,600.8 L474,604.2 L473.7,607.6 L473.4,611 L473.2,614.3 L473,617.7 L472.8,621.1 L472.6,624.5 L472.5,627.9 L472.4,631.3 L472.3,634.7 L472.2,638.1 L472.2,641.5 L472.2,644.9 L472.2,648.3 L472.2,651.7 L472.2,655.1 L472.2,658.5 L472.3,661.9 L472.4,665.3 L472.5,668.7 L472.6,672.1 L472.7,675.5 L472.9,678.8 L473.1,682.2 L473.2,685.6 L473.5,689 L473.7,692.3 L474,695.7 L474.3,699 L474.6,702.4 L474.9,705.8 L475.3,709.1 L475.7,712.5 L476.1,715.8 L476.6,719.1 L477.1,722.5 L477.6,725.8 L478.1,729.1 L478.7,732.4 L479.3,735.8 L479.9,739.1 L480.6,742.4 L481.3,745.7 L482,749 L482.8,752.3 L483.6,755.6 L484.4,758.8 L485.3,762.1 L486.2,765.4 L487.1,768.6 L488,771.9 L489,775.1 L490.1,778.3 L491.2,781.6 L492.3,784.8 L493.4,788 L494.6,791.2 L495.8,794.4 L497.1,797.6 L498.4,800.7 L499.7,803.8 L501.2,806.9 L502.8,809.9 L504.5,812.8 L506.4,815.6 L508.4,818.3 L510.6,820.9 L513,823.3 L515.6,825.5 L518.4,827.6 L521.4,829.2 L524.5,830.1 L527.6,830.3 L530.8,829.7 L533.9,828.7 L537.1,827.6 L540.2,826.4 L543.4,825.2 L546.5,823.9 L549.7,822.5 L552.8,821.1 L555.9,819.6 L559,818.1 L562,816.5 L565.1,814.9 L568.1,813.2 L571,811.5 L574,809.7 L576.9,807.8 L579.7,805.9 L582.5,804 L585.3,802 L588,799.9 L590.6,797.8 L593.3,795.7 L595.8,793.5 L598.4,791.3 L600.8,789 L603.3,786.7 L605.7,784.4 L608,782 L610.3,779.5 L612.6,777 L614.8,774.5 L617,772 L619.1,769.4 L621.2,766.7 L623.3,764.1 L625.3,761.4 L627.3,758.6 L629.2,755.9 L631.1,753 L633,750.2 L634.8,747.3 L636.5,744.4 L638.3,741.5 L640,738.5 L641.6,735.6 L643.3,732.5 L644.8,729.5 L646.3,726.4 L647.8,723.3 L649.2,720.2 L650.5,717.1 L651.8,713.9 L652.9,710.7 L654,707.5 L655,704.3 L655.9,701.1 L656.6,697.8 L657.3,694.6 L657.9,691.3 L658.4,688 L658.8,684.7 L659.2,681.3 L659.5,678 L659.7,674.6 L659.8,671.3Z" fill="#7c06ff"/>
<path d="M662.7,796.8 669.5,797.5 669.5,506.2 657.9,507.5 646.4,510 634.8,513.5 624.4,517.7 614,523 603.5,529.5 594.3,536.4 585.3,544.4 576.9,553.3 569.3,562.9 562.4,573.2 556.7,583.6 551.1,596.3 547.2,607.8 544.5,619.3 543.6,628.6 544.7,638.9 546.3,643.5 549,648.2 554.9,654.1 567.1,662 569.7,665.4 569.5,667.8 567.9,670.1 558.4,677.6 553.9,682.7 551.2,688.5 550.2,695.4 551.3,704.6 554.7,715 560.3,726.5 568.2,739.2 577.3,750.7 587.3,761.1 598.2,770.3 610.1,778.4 623.2,785.4 636,790.6 648.7,794.3 662.7,796.8ZM580.4,671.3 577.5,667.8 577.1,665.4 577.7,663.1 580.6,659.7 582.7,658.9 585,659.2 587.2,660.8 588.4,663.1 588.8,665.4 588,668.9 585,671.9 582.7,672.2 580.4,671.3Z" fill="#7216ff"/>
<path d="M667.7,766.9 669.5,767.1 669.5,537.8 653.3,540.8 638.3,546.2 623.2,554.7 610.1,565.2 603.5,571.8 597.8,578.8 588,594 584,602.1 580.9,610.1 579.1,617 578.4,624 579.4,630.9 582,636.6 586.7,642.4 600.1,655.3 603,659.7 604.5,664.3 604.3,668.9 602.6,673.5 590.7,689.6 588.9,693.1 587.4,697.7 587.2,702.3 588.2,708.1 590.4,713.9 593.6,719.6 600.1,728.8 607.3,736.9 616.3,745 625.5,751.6 636,757.5 646.4,761.9 656.8,765 667.7,766.9Z" fill="#6629fe"/>
<path d="M665.8,747.3 669.5,747.8 669.5,558.6 657.9,561 646.4,565.5 635,572.1 625.2,580.2 615.9,590.5 608.4,602.1 603.4,613.6 601.9,619.3 601.5,624 601.9,628.6 603.4,633.2 614.6,651.6 616.9,657.4 618.2,663.1 618.5,668.9 617.5,675.8 611.6,692 610.2,697.7 610.5,703.5 613,710.4 616.5,716.2 622.1,723.1 628,728.8 635.4,734.6 642.9,739.2 650.2,742.7 657.9,745.4 665.8,747.3Z" fill="#5c38fd"/>
<path d="M665.6,730 669.5,730.8 669.5,578 660.3,580.5 652.2,584.2 644.1,589.6 636.8,596.3 630.3,604.4 625.1,613.6 621.8,622.8 620.7,630.9 621.3,638.9 626,663.1 626.6,690.8 627.7,696.6 629.3,701.2 635,710.4 644.1,719.3 654.5,725.9 665.6,730Z" fill="#5247fc"/>
<path d="M667.7,721.9 669.5,722.4 669.5,588.1 661.4,590.7 654.5,594.3 647.4,599.8 641,606.7 635.6,614.7 631.9,622.8 629.8,630.9 629.1,638.9 632.7,682.7 634,689.6 636.5,696.6 641.7,704.9 649.5,712.7 657.9,718.2 667.7,721.9Z" fill="#4856fb"/>
<path d="M666.2,716.2 669.5,717.1 669.5,594.5 662.6,597 655.6,601.1 649.8,606 644.3,612.4 640.1,619.3 636.7,627.4 635,634.3 634.2,642.4 634.4,651.6 636.5,677 637.9,685 640.1,692 644.6,700 650.7,706.9 657.9,712.3 666.2,716.2Z" fill="#3e65fa"/>
<path d="M667.8,712.7 669.5,713.2 669.5,599.6 662.6,602.3 656.8,606.1 651,611.5 646,618.2 642.3,625.1 639.9,632 638.3,640.1 637.7,649.3 638.1,662 639.3,674.7 641.2,683.9 643.7,690.8 647.7,697.7 653.3,704.1 660.3,709.3 667.8,712.7Z" fill="#3176f8"/>
<path d="M669.4,710.4 669.5,603.2 662.6,606.2 657.2,610.1 652.2,615.2 647.7,621.6 644.3,628.6 642,635.5 640.4,644.7 640,653.9 640.5,665.4 641.7,675.8 643.7,683.9 646.6,690.8 651.1,697.7 656.7,703.5 662.6,707.5 669.4,710.4Z" fill="#2884f6"/>
<path d="M668.8,708.1 669.5,708.3 669.5,605.9 663.7,608.6 657.9,612.8 652.9,618.2 649.1,624 645.9,630.9 643.7,637.8 642.4,645.9 641.9,655.1 642.3,665.4 643.4,674.7 645.4,682.7 648.2,689.6 651.8,695.4 656.8,700.9 662.6,705.2 668.8,708.1Z" fill="#1e91f3"/>
<path d="M667.5,705.8 669.5,706.5 669.5,608.3 663.7,611.2 659.1,614.7 654.7,619.3 650.8,625.1 648,630.9 645.7,637.8 644.2,645.9 643.6,653.9 643.9,664.3 644.9,673.5 646.8,681.6 649,687.3 652.3,693.1 656.8,698.5 661.4,702.4 667.5,705.8Z" fill="#149df1"/>
<path d="M668.9,704.6 669.5,704.9 669.5,610.6 663.8,613.6 659.5,617 655.3,621.6 651.7,627.4 649,633.2 646.9,640.1 645.6,648.2 645.2,656.2 646.5,673.5 648,680.4 650.7,687.3 654.2,693.1 658.2,697.7 663.7,702.1 668.9,704.6Z" fill="#08acee"/>
<path d="M667.3,702.3 669.5,703.3 669.5,612.8 664.9,615.2 660.3,618.9 656.8,622.8 653.1,628.6 650.5,634.3 648.7,640.1 647.4,647 646.8,655.1 647.8,672.4 649.3,679.3 651.3,685 654.4,690.8 658,695.4 662.6,699.5 667.3,702.3Z" fill="#02b7eb"/>
<path d="M668.5,701.2 669.5,701.6 669.5,615 664.9,617.7 660.3,621.6 656.8,626 654,630.9 651.5,636.6 649.9,642.4 648.5,656.2 649.5,672.4 650.9,679.3 653,685 655.6,689.8 659.1,694.3 663.7,698.4 668.5,701.2Z" fill="#0dc2e8"/>
<path d="M667.6,698.9 669.5,699.8 669.5,617.6 664.9,620.4 661.4,623.6 655.6,632 653.3,637.5 651.6,643.5 650.3,656.2 651,671.2 653.9,682.7 656.1,687.3 659.3,692 662.7,695.4 667.6,698.9Z" fill="#17cbe4"/>
<path d="M669.4,697.7 669.5,620.4 665.8,622.8 662.2,626.3 659.1,630.4 656.4,635.5 653.2,645.9 652.1,659.7 653.2,673.5 656.4,683.9 659,688.5 661.7,692 665.6,695.4 669.4,697.7Z" fill="#20d5e1"/>
<path d="M669.2,695.4 669.5,623.5 666,626 662.6,629.6 657.9,637.4 654.9,648.2 653.9,659.7 654.9,672.4 657.5,681.6 662.3,689.6 665.8,693.1 669.2,695.4Z" fill="#2ddedc"/>
<path d="M669.2,693.1 669.5,626.7 663.7,632.1 659.3,640.1 656.7,649.3 655.7,660.8 656.5,671.2 659,680.4 663.7,688.4 669.2,693.1Z" fill="#37e6d8"/>
<path d="M669.3,690.8 669.5,630.1 664.3,635.5 660.7,642.4 658.5,650.5 657.5,660.8 658.3,671.2 660.5,679.3 664.4,686.2 669.3,690.8Z" fill="#40ecd4"/>
</g>
<rect x="456.5" y="496.5" width="212.1" height="341.7" fill="none" stroke="#3a3a3a" stroke-width="2.1"/>
<path d="M465.8,838.2v-9.6M465.8,496.5v9.6M512.1,838.2v-9.6M512.1,496.5v9.6M558.4,838.2v-9.6M558.4,496.5v9.6M604.7,838.2v-9.6M604.7,496.5v9.6M651.0,838.2v-9.6M651.0,496.5v9.6M456.5,829.1h9.6M668.6,829.1h-9.6M456.5,783.0h9.6M668.6,783.0h-9.6M456.5,736.9h9.6M668.6,736.9h-9.6M456.5,690.8h9.6M668.6,690.8h-9.6M456.5,644.7h9.6M668.6,644.7h-9.6M456.5,598.6h9.6M668.6,598.6h-9.6M456.5,552.5h9.6M668.6,552.5h-9.6M456.5,506.4h9.6M668.6,506.4h-9.6" stroke="#3a3a3a" stroke-width="1.25" fill="none"/>
<text transform="translate(456.25,867.20) scale(1.0000,1)" font-family="'Liberation Serif','Times New Roman',serif" font-size="33.80" fill="#333">4</text>
<text transform="translate(502.21,867.20) scale(1.0000,1)" font-family="'Liberation Serif','Times New Roman',serif" font-size="33.80" fill="#333">5</text>
<text transform="translate(548.68,867.20) scale(1.0000,1)" font-family="'Liberation Serif','Times New Roman',serif" font-size="33.80" fill="#333">6</text>
<text transform="translate(593.37,867.20) scale(1.0000,1)" font-family="'Liberation Serif','Times New Roman',serif" font-size="33.80" fill="#333">7</text>
<text transform="translate(641.45,867.20) scale(1.0000,1)" font-family="'Liberation Serif','Times New Roman',serif" font-size="33.80" fill="#333">8</text>
<text transform="translate(428.45,839.50) scale(1.0000,1)" font-family="'Liberation Serif','Times New Roman',serif" font-size="33.80" fill="#333">3</text>
<text transform="translate(406.63,842.82) scale(1.1645,1)" font-family="'Liberation Serif','Times New Roman',serif" font-size="33.80" fill="#333">−</text>
<text transform="translate(429.13,793.40) scale(1.0000,1)" font-family="'Liberation Serif','Times New Roman',serif" font-size="33.80" fill="#333">2</text>
<text transform="translate(406.63,796.72) scale(1.1645,1)" font-family="'Liberation Serif','Times New Roman',serif" font-size="33.80" fill="#333">−</text>
<text transform="translate(427.93,747.30) scale(1.0000,1)" font-family="'Liberation Serif','Times New Roman',serif" font-size="33.80" fill="#333">1</text>
<text transform="translate(406.63,750.62) scale(1.1645,1)" font-family="'Liberation Serif','Times New Roman',serif" font-size="33.80" fill="#333">−</text>
<text transform="translate(430.75,698.70) scale(1.0000,1)" font-family="'Liberation Serif','Times New Roman',serif" font-size="33.80" fill="#333">0</text>
<text transform="translate(427.93,651.60) scale(1.0000,1)" font-family="'Liberation Serif','Times New Roman',serif" font-size="33.80" fill="#333">1</text>
<text transform="translate(430.93,606.10) scale(1.0000,1)" font-family="'Liberation Serif','Times New Roman',serif" font-size="33.80" fill="#333">2</text>
<text transform="translate(430.25,560.70) scale(1.0000,1)" font-family="'Liberation Serif','Times New Roman',serif" font-size="33.80" fill="#333">3</text>
<text transform="translate(430.08,513.60) scale(1.0000,1)" font-family="'Liberation Serif','Times New Roman',serif" font-size="33.80" fill="#333">4</text>
<text transform="translate(465.60,484.20) scale(0.9479,1)" font-family="'Liberation Sans',Arial,Helvetica,sans-serif" font-size="42.00" fill="#000">With TBMs</text>
<text transform="translate(510.96,912.00) scale(0.9641,1)" font-family="'Liberation Sans',Arial,Helvetica,sans-serif" font-size="42.00" fill="#000">R [m]</text>
<rect x="772.2" y="840.83" width="53.0" height="16.47" fill="#7c06ff"/>
<rect x="772.2" y="824.87" width="53.0" height="16.47" fill="#7216ff"/>
<rect x="772.2" y="808.90" width="53.0" height="16.47" fill="#6629fe"/>
<rect x="772.2" y="792.93" width="53.0" height="16.47" fill="#5c38fd"/>
<rect x="772.2" y="776.96" width="53.0" height="16.47" fill="#5247fc"/>
<rect x="772.2" y="761.00" width="53.0" height="16.47" fill="#4856fb"/>
<rect x="772.2" y="745.03" width="53.0" height="16.47" fill="#3e65fa"/>
<rect x="772.2" y="729.06" width="53.0" height="16.47" fill="#3176f8"/>
<rect x="772.2" y="713.09" width="53.0" height="16.47" fill="#2884f6"/>
<rect x="772.2" y="697.13" width="53.0" height="16.47" fill="#1e91f3"/>
<rect x="772.2" y="681.16" width="53.0" height="16.47" fill="#149df1"/>
<rect x="772.2" y="665.19" width="53.0" height="16.47" fill="#08acee"/>
<rect x="772.2" y="649.22" width="53.0" height="16.47" fill="#02b7eb"/>
<rect x="772.2" y="633.26" width="53.0" height="16.47" fill="#0dc2e8"/>
<rect x="772.2" y="617.29" width="53.0" height="16.47" fill="#17cbe4"/>
<rect x="772.2" y="601.32" width="53.0" height="16.47" fill="#20d5e1"/>
<rect x="772.2" y="585.36" width="53.0" height="16.47" fill="#2ddedc"/>
<rect x="772.2" y="569.39" width="53.0" height="16.47" fill="#37e6d8"/>
<rect x="772.2" y="553.42" width="53.0" height="16.47" fill="#40ecd4"/>
<rect x="772.2" y="537.45" width="53.0" height="16.47" fill="#4af2cf"/>
<rect x="772.2" y="521.49" width="53.0" height="16.47" fill="#56f7ca"/>
<rect x="772.2" y="505.52" width="53.0" height="16.47" fill="#60fac5"/>
<rect x="772.2" y="489.55" width="53.0" height="16.47" fill="#6afdc0"/>
<rect x="772.2" y="473.58" width="53.0" height="16.47" fill="#74feba"/>
<rect x="772.2" y="457.62" width="53.0" height="16.47" fill="#80ffb4"/>
<rect x="772.2" y="441.65" width="53.0" height="16.47" fill="#8bfeae"/>
<rect x="772.2" y="425.68" width="53.0" height="16.47" fill="#94fda8"/>
<rect x="772.2" y="409.71" width="53.0" height="16.47" fill="#9efaa2"/>
<rect x="772.2" y="393.75" width="53.0" height="16.47" fill="#a8f79c"/>
<rect x="772.2" y="377.78" width="53.0" height="16.47" fill="#b4f295"/>
<rect x="772.2" y="361.81" width="53.0" height="16.47" fill="#beec8e"/>
<rect x="772.2" y="345.84" width="53.0" height="16.47" fill="#c8e688"/>
<rect x="772.2" y="329.88" width="53.0" height="16.47" fill="#d2de81"/>
<rect x="772.2" y="313.91" width="53.0" height="16.47" fill="#ded579"/>
<rect x="772.2" y="297.94" width="53.0" height="16.47" fill="#e8cb72"/>
<rect x="772.2" y="281.98" width="53.0" height="16.47" fill="#f2c26b"/>
<rect x="772.2" y="266.01" width="53.0" height="16.47" fill="#fcb763"/>
<rect x="772.2" y="250.04" width="53.0" height="16.47" fill="#ffac5c"/>
<rect x="772.2" y="234.07" width="53.0" height="16.47" fill="#ff9d53"/>
<rect x="772.2" y="218.11" width="53.0" height="16.47" fill="#ff914c"/>
<rect x="772.2" y="202.14" width="53.0" height="16.47" fill="#ff8444"/>
<rect x="772.2" y="186.17" width="53.0" height="16.47" fill="#ff763d"/>
<rect x="772.2" y="170.20" width="53.0" height="16.47" fill="#ff6533"/>
<rect x="772.2" y="154.24" width="53.0" height="16.47" fill="#ff562c"/>
<rect x="772.2" y="138.27" width="53.0" height="16.47" fill="#ff4724"/>
<rect x="772.2" y="122.30" width="53.0" height="16.47" fill="#ff381c"/>
<rect x="772.2" y="106.33" width="53.0" height="16.47" fill="#ff2914"/>
<rect x="772.2" y="90.37" width="53.0" height="16.47" fill="#ff160b"/>
<rect x="772.2" y="75.20" width="53.0" height="16.47" fill="#ff0603"/>
<rect x="772.2" y="75.2" width="53.0" height="782.4" fill="none" stroke="#222" stroke-width="1.7"/>
<text transform="translate(831.60,864.90) scale(0.9800,1)" font-family="'Liberation Sans',Arial,Helvetica,sans-serif" font-size="27.00" fill="#1a1a1a">0.0</text>
<text transform="translate(831.60,753.03) scale(0.9800,1)" font-family="'Liberation Sans',Arial,Helvetica,sans-serif" font-size="27.00" fill="#1a1a1a">0.2</text>
<text transform="translate(831.60,641.26) scale(0.9800,1)" font-family="'Liberation Sans',Arial,Helvetica,sans-serif" font-size="27.00" fill="#1a1a1a">0.4</text>
<text transform="translate(831.60,529.49) scale(0.9800,1)" font-family="'Liberation Sans',Arial,Helvetica,sans-serif" font-size="27.00" fill="#1a1a1a">0.6</text>
<text transform="translate(831.60,417.71) scale(0.9800,1)" font-family="'Liberation Sans',Arial,Helvetica,sans-serif" font-size="27.00" fill="#1a1a1a">0.8</text>
<text transform="translate(831.60,305.34) scale(0.9800,1)" font-family="'Liberation Sans',Arial,Helvetica,sans-serif" font-size="27.00" fill="#1a1a1a">1.0</text>
<text transform="translate(831.60,192.47) scale(0.9800,1)" font-family="'Liberation Sans',Arial,Helvetica,sans-serif" font-size="27.00" fill="#1a1a1a">1.2</text>
<text transform="translate(831.60,80.40) scale(0.9800,1)" font-family="'Liberation Sans',Arial,Helvetica,sans-serif" font-size="27.00" fill="#1a1a1a">1.4</text>
<path d="M825.2,745.8h-9M825.2,634.1h-9M825.2,522.3h-9M825.2,410.5h-9M825.2,298.7h-9M825.2,187.0h-9" stroke="#222" stroke-width="1.3" fill="none"/>
<text transform="translate(867.29,493.95) scale(0.8918,1)" font-family="'Liberation Serif','Times New Roman',serif" font-style="italic" font-size="45.35" fill="#474747">δ</text>
<text transform="translate(888.24,501.00) scale(1.1207,1)" font-family="'Liberation Serif','Times New Roman',serif" font-style="italic" font-size="31.69" fill="#474747">B</text>
<text transform="translate(913.72,495.54) scale(0.8030,1)" font-family="'Liberation Serif','Times New Roman',serif" font-size="49.33" fill="#474747">(</text>
<text transform="translate(928.07,496.91) scale(0.7533,1)" font-family="'Liberation Serif','Times New Roman',serif" font-size="54.48" fill="#474747">%</text>
<text transform="translate(962.03,495.54) scale(0.8576,1)" font-family="'Liberation Serif','Times New Roman',serif" font-size="49.33" fill="#474747">)</text>
</g>
</svg>
</body></html>
